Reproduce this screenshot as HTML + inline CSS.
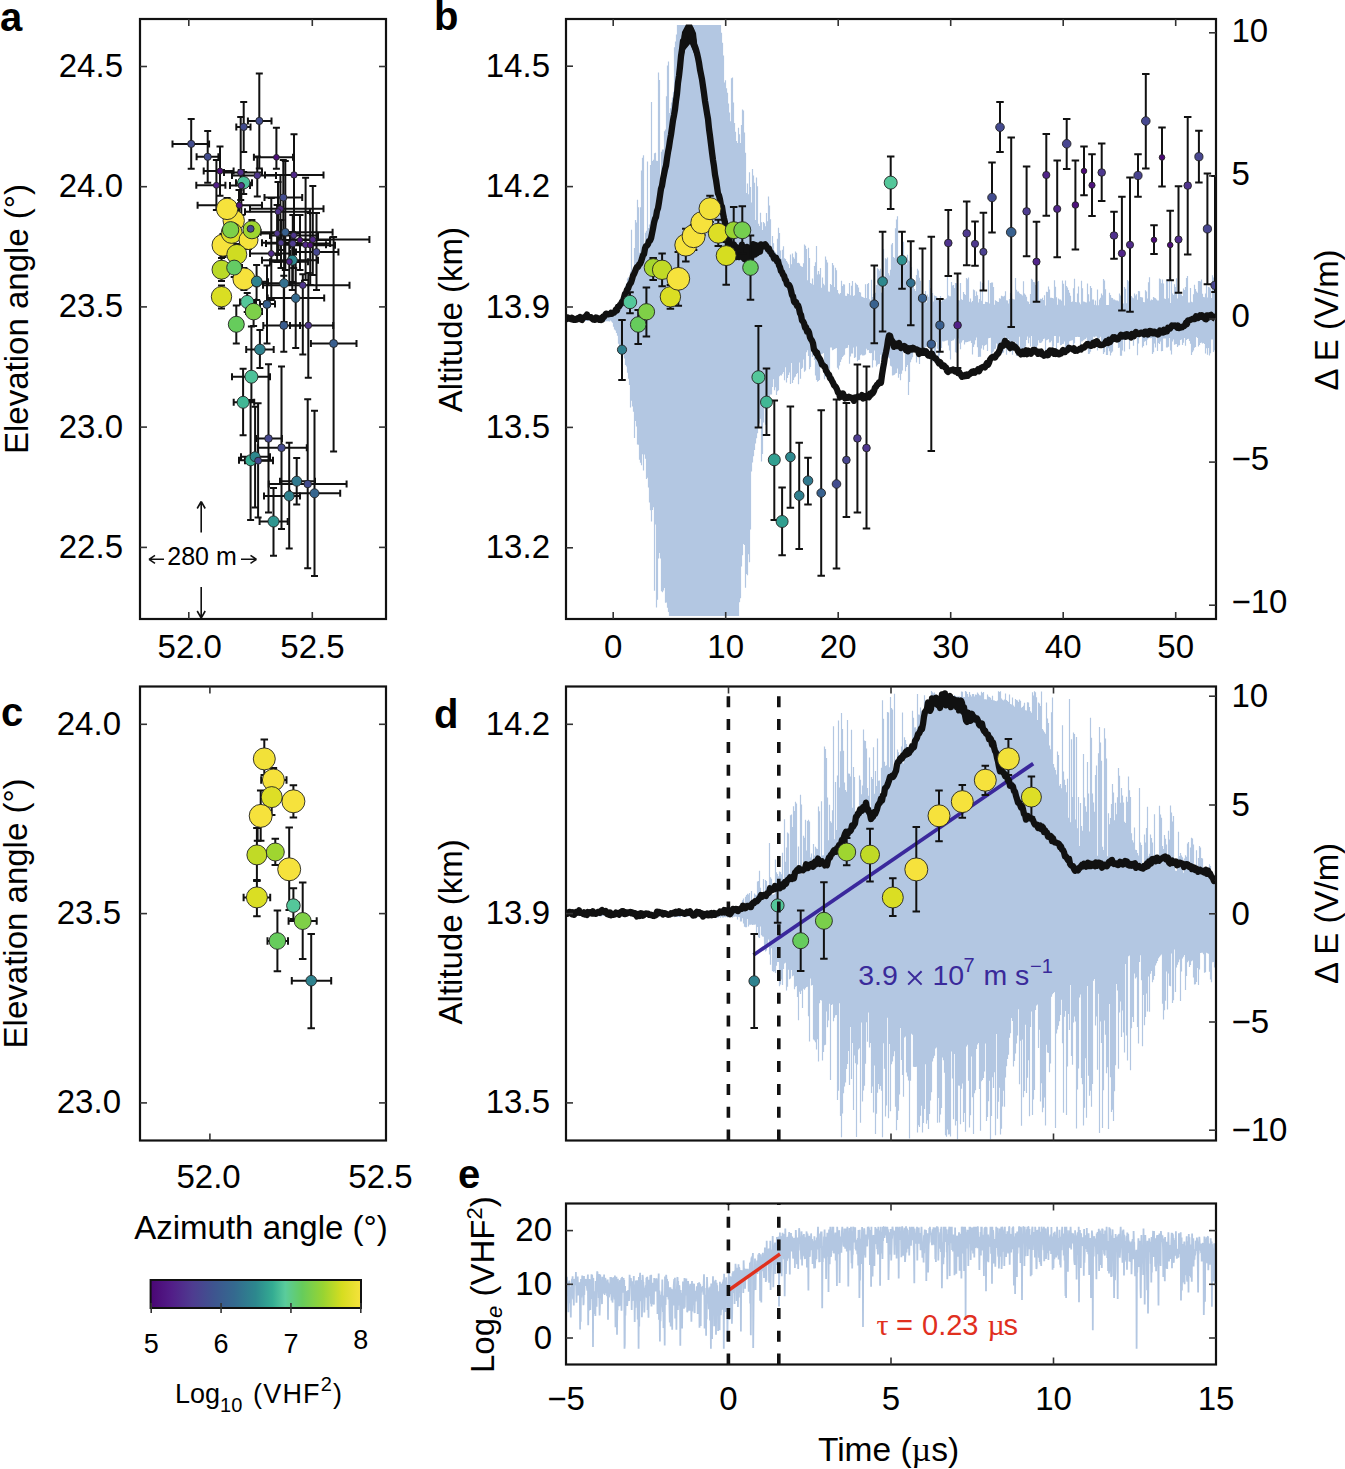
<!DOCTYPE html>
<html><head><meta charset="utf-8"><style>
html,body{margin:0;padding:0;background:#fff;}
svg{display:block;}
svg{font-family:"Liberation Sans", sans-serif;}
</style></head><body>
<svg width="1345" height="1469" viewBox="0 0 1345 1469">
<rect width="1345" height="1469" fill="#fff"/>
<defs><clipPath id="cb"><rect x="567" y="20" width="648" height="598"/></clipPath><clipPath id="cd"><rect x="567" y="687.5" width="648" height="452"/></clipPath><clipPath id="ce"><rect x="567" y="1204.5" width="648" height="159"/></clipPath><clipPath id="ca"><rect x="141" y="20" width="244" height="598"/></clipPath><clipPath id="cc"><rect x="141" y="687.5" width="244" height="452"/></clipPath></defs>
<path d="M566.5 317.7V320.5M567.5 317.7V320.8M568.5 317.7V320.7M569.5 318.0V321.0M570.5 317.4V320.8M571.5 318.0V320.7M572.5 318.0V320.9M573.5 317.4V320.7M574.5 317.8V321.2M575.5 317.3V321.0M576.5 317.4V320.4M577.5 317.7V321.0M578.5 317.7V320.5M579.5 317.6V320.4M580.5 317.8V320.4M581.5 317.1V320.3M582.5 317.2V320.1M583.5 317.6V320.1M584.5 317.6V320.1M585.5 317.6V321.1M586.5 317.6V321.0M587.5 317.2V321.0M588.5 317.3V320.4M589.5 317.4V320.3M590.5 317.5V320.6M591.5 317.4V321.3M592.5 317.5V321.2M593.5 317.6V321.5M594.5 317.6V320.8M595.5 317.9V320.9M596.5 317.9V320.8M597.5 317.7V320.8M598.5 317.7V321.4M599.5 317.7V320.2M600.5 317.7V320.0M601.5 317.8V320.1M602.5 316.5V321.1M603.5 317.1V320.9M604.5 317.1V321.8M605.5 317.2V321.3M606.5 317.2V321.2M607.5 316.3V321.2M608.5 316.3V321.2M609.5 316.4V321.5M610.5 317.1V320.6M611.5 315.7V321.6M612.5 312.8V322.7M613.5 313.2V326.8M614.5 311.9V329.6M615.5 312.9V330.6M616.5 305.5V333.1M617.5 304.3V335.7M618.5 305.2V343.7M619.5 304.1V346.1M620.5 298.7V345.0M621.5 304.9V347.8M622.5 296.3V357.6M623.5 296.4V353.1M624.5 291.4V358.4M625.5 285.9V365.1M626.5 283.6V366.6M627.5 278.5V372.8M628.5 277.3V378.8M629.5 285.4V384.9M630.5 271.8V407.4M631.5 229.7V400.7M632.5 278.1V406.4M633.5 274.7V411.7M634.5 247.9V438.1M635.5 220.0V421.0M636.5 222.6V426.4M637.5 199.7V444.6M638.5 207.3V444.7M639.5 252.7V459.8M640.5 207.2V462.8M641.5 170.4V465.3M642.5 157.7V454.3M643.5 155.2V470.5M644.5 245.2V454.5M645.5 232.8V458.8M646.5 230.7V479.0M647.5 161.5V477.8M648.5 228.1V487.5M649.5 224.6V502.5M650.5 165.1V510.2M651.5 102.0V521.6M652.5 161.1V509.9M653.5 159.8V507.3M654.5 153.2V590.7M655.5 152.7V524.4M656.5 160.8V607.4M657.5 161.1V599.8M658.5 72.4V558.4M659.5 80.1V553.1M660.5 181.3V558.6M661.5 151.8V591.2M662.5 149.6V592.3M663.5 149.6V590.6M664.5 131.2V587.9M665.5 129.6V602.8M666.5 96.3V602.4M667.5 65.5V607.7M668.5 61.5V611.9M669.5 113.0V616.0M670.5 108.3V616.0M671.5 102.4V616.0M672.5 97.5V616.0M673.5 91.8V616.0M674.5 47.3V616.0M675.5 41.6V616.0M676.5 34.4V616.0M677.5 25.0V616.0M678.5 25.0V616.0M679.5 25.0V616.0M680.5 25.0V616.0M681.5 25.0V616.0M682.5 25.0V616.0M683.5 25.0V616.0M684.5 25.0V616.0M685.5 25.0V616.0M686.5 25.0V616.0M687.5 25.0V616.0M688.5 25.0V616.0M689.5 25.0V616.0M690.5 25.0V616.0M691.5 25.0V616.0M692.5 25.0V616.0M693.5 25.0V616.0M694.5 25.0V616.0M695.5 25.0V616.0M696.5 25.0V616.0M697.5 25.0V616.0M698.5 25.0V616.0M699.5 25.0V616.0M700.5 25.0V616.0M701.5 25.0V616.0M702.5 25.0V616.0M703.5 25.0V616.0M704.5 25.0V616.0M705.5 25.0V616.0M706.5 25.0V616.0M707.5 25.0V616.0M708.5 25.0V616.0M709.5 25.0V616.0M710.5 25.0V616.0M711.5 25.0V616.0M712.5 25.0V616.0M713.5 25.0V616.0M714.5 25.0V616.0M715.5 25.0V616.0M716.5 25.0V616.0M717.5 25.0V616.0M718.5 25.0V616.0M719.5 25.0V616.0M720.5 25.0V616.0M721.5 32.7V616.0M722.5 42.7V616.0M723.5 55.4V616.0M724.5 82.5V616.0M725.5 80.2V616.0M726.5 88.3V616.0M727.5 92.7V616.0M728.5 103.4V616.0M729.5 112.5V616.0M730.5 121.2V616.0M731.5 78.2V616.0M732.5 77.5V616.0M733.5 102.4V616.0M734.5 122.9V616.0M735.5 131.8V616.0M736.5 140.9V616.0M737.5 142.9V616.0M738.5 127.8V616.0M739.5 134.3V602.3M740.5 143.0V598.3M741.5 125.0V566.4M742.5 109.4V555.2M743.5 110.6V544.1M744.5 132.6V544.9M745.5 152.8V587.7M746.5 193.0V573.9M747.5 183.4V575.3M748.5 194.3V554.3M749.5 172.3V562.2M750.5 187.1V529.5M751.5 202.4V471.6M752.5 169.1V462.4M753.5 175.6V456.3M754.5 182.7V450.0M755.5 220.0V443.6M756.5 177.5V438.2M757.5 186.2V433.3M758.5 223.7V428.0M759.5 225.9V423.4M760.5 212.7V418.7M761.5 222.3V461.5M762.5 230.0V453.9M763.5 222.0V422.6M764.5 223.2V405.0M765.5 226.2V424.7M766.5 212.9V414.8M767.5 221.2V404.9M768.5 196.5V401.3M769.5 205.5V398.7M770.5 219.3V394.6M771.5 249.0V394.6M772.5 235.9V386.9M773.5 243.2V379.3M774.5 250.7V390.3M775.5 252.2V387.2M776.5 254.1V394.9M777.5 238.7V391.2M778.5 227.8V390.3M779.5 233.0V376.2M780.5 250.6V375.2M781.5 258.8V375.6M782.5 249.8V373.8M783.5 246.3V372.0M784.5 258.3V380.3M785.5 259.1V367.3M786.5 261.1V382.6M787.5 262.6V378.1M788.5 264.2V375.1M789.5 268.0V372.5M790.5 254.5V384.1M791.5 264.3V362.9M792.5 253.6V382.9M793.5 257.2V380.0M794.5 258.7V377.6M795.5 251.4V376.5M796.5 252.8V374.1M797.5 262.9V373.1M798.5 262.8V384.3M799.5 263.4V362.5M800.5 265.8V378.7M801.5 266.4V369.1M802.5 266.9V367.7M803.5 263.3V359.5M804.5 244.4V371.8M805.5 245.8V370.5M806.5 249.0V352.2M807.5 280.3V350.3M808.5 247.8V356.0M809.5 257.9V369.3M810.5 283.1V367.0M811.5 283.7V351.1M812.5 278.4V357.1M813.5 284.7V350.2M814.5 266.1V360.1M815.5 262.2V375.4M816.5 246.1V379.9M817.5 274.5V381.8M818.5 270.9V381.0M819.5 274.3V380.1M820.5 268.0V355.2M821.5 287.8V354.3M822.5 277.6V353.8M823.5 283.8V353.0M824.5 285.2V379.3M825.5 256.4V372.0M826.5 259.7V375.2M827.5 262.4V371.9M828.5 291.4V367.9M829.5 291.8V369.7M830.5 284.1V347.6M831.5 285.0V347.4M832.5 262.9V350.3M833.5 265.2V349.8M834.5 287.1V349.1M835.5 267.7V348.6M836.5 270.2V347.9M837.5 289.9V367.7M838.5 293.3V369.4M839.5 294.3V365.6M840.5 293.0V362.1M841.5 280.8V359.5M842.5 285.9V357.1M843.5 284.2V355.8M844.5 284.4V354.7M845.5 295.8V348.6M846.5 296.1V348.1M847.5 293.6V347.8M848.5 293.9V344.9M849.5 283.0V363.8M850.5 295.3V356.4M851.5 285.7V353.5M852.5 280.9V353.4M853.5 296.0V347.4M854.5 295.2V358.1M855.5 282.8V357.2M856.5 284.2V346.5M857.5 285.1V361.2M858.5 287.6V360.0M859.5 292.1V359.8M860.5 292.4V355.3M861.5 296.5V354.4M862.5 297.1V355.5M863.5 297.5V355.4M864.5 298.1V355.2M865.5 284.3V354.6M866.5 297.9V348.7M867.5 283.9V350.2M868.5 283.1V350.1M869.5 299.3V353.0M870.5 300.5V353.3M871.5 279.8V352.9M872.5 296.9V367.6M873.5 293.7V360.3M874.5 293.5V350.6M875.5 292.8V360.4M876.5 285.1V366.6M877.5 268.3V364.8M878.5 269.3V364.0M879.5 270.7V363.8M880.5 268.8V354.7M881.5 292.8V359.2M882.5 292.0V358.7M883.5 249.1V357.9M884.5 287.4V361.9M885.5 258.2V354.1M886.5 259.3V355.1M887.5 257.6V356.7M888.5 273.2V357.5M889.5 275.6V358.4M890.5 269.8V365.8M891.5 244.5V366.4M892.5 243.1V375.6M893.5 256.9V375.2M894.5 258.0V374.8M895.5 228.3V373.6M896.5 219.5V373.1M897.5 216.3V368.4M898.5 262.4V377.8M899.5 263.1V374.0M900.5 263.7V380.3M901.5 264.3V373.8M902.5 264.8V370.4M903.5 241.8V351.9M904.5 256.1V351.3M905.5 260.2V371.3M906.5 264.5V367.1M907.5 254.8V364.9M908.5 260.4V395.1M909.5 261.3V381.9M910.5 263.0V362.2M911.5 267.2V359.6M912.5 285.2V357.3M913.5 287.1V349.5M914.5 289.1V351.3M915.5 291.1V350.6M916.5 275.1V362.5M917.5 268.8V351.5M918.5 270.6V350.1M919.5 277.8V364.1M920.5 280.8V354.4M921.5 296.4V352.2M922.5 297.6V350.4M923.5 301.1V348.7M924.5 301.3V347.8M925.5 290.9V347.5M926.5 302.6V346.8M927.5 294.5V345.1M928.5 296.7V344.8M929.5 280.0V348.4M930.5 288.2V357.8M931.5 290.5V344.3M932.5 293.0V361.3M933.5 301.6V347.9M934.5 295.6V362.3M935.5 296.1V358.0M936.5 296.5V341.9M937.5 297.8V348.8M938.5 298.0V357.5M939.5 298.7V355.4M940.5 295.9V349.9M941.5 301.6V348.0M942.5 299.4V341.2M943.5 300.3V341.5M944.5 299.0V341.2M945.5 299.3V340.8M946.5 298.2V340.5M947.5 275.6V340.3M948.5 295.5V345.5M949.5 296.2V350.4M950.5 296.3V359.6M951.5 281.9V341.1M952.5 285.6V340.6M953.5 284.9V340.3M954.5 287.9V338.7M955.5 282.9V352.2M956.5 283.2V352.8M957.5 302.8V344.5M958.5 299.9V338.4M959.5 300.4V343.6M960.5 283.0V349.2M961.5 299.3V342.5M962.5 299.9V340.6M963.5 292.0V340.0M964.5 294.1V344.5M965.5 295.1V342.3M966.5 277.9V342.2M967.5 279.2V342.1M968.5 277.5V341.5M969.5 301.7V341.2M970.5 298.5V340.7M971.5 302.3V343.1M972.5 301.1V354.5M973.5 289.6V346.9M974.5 290.2V344.4M975.5 296.0V340.2M976.5 291.5V337.4M977.5 295.3V347.3M978.5 302.4V356.9M979.5 298.9V356.8M980.5 281.5V356.7M981.5 300.8V348.4M982.5 282.9V345.3M983.5 304.0V349.7M984.5 304.0V345.7M985.5 301.8V345.0M986.5 302.0V344.6M987.5 302.2V350.9M988.5 280.3V338.3M989.5 303.6V338.0M990.5 283.0V337.8M991.5 282.5V353.9M992.5 282.6V352.6M993.5 286.9V351.5M994.5 304.8V349.3M995.5 300.2V348.7M996.5 301.0V343.6M997.5 301.7V346.7M998.5 302.1V348.5M999.5 298.3V347.0M1000.5 298.8V351.5M1001.5 295.7V354.5M1002.5 296.2V352.9M1003.5 296.5V352.4M1004.5 295.7V341.8M1005.5 291.3V336.6M1006.5 300.3V354.8M1007.5 300.6V339.2M1008.5 303.4V339.3M1009.5 298.9V352.2M1010.5 293.1V351.9M1011.5 294.6V349.1M1012.5 298.8V354.7M1013.5 299.3V341.3M1014.5 299.6V346.4M1015.5 278.1V342.0M1016.5 289.8V355.9M1017.5 291.5V347.6M1018.5 291.5V346.1M1019.5 293.2V336.8M1020.5 294.1V349.6M1021.5 294.5V350.4M1022.5 295.6V350.0M1023.5 281.2V348.2M1024.5 293.6V347.7M1025.5 294.8V346.6M1026.5 296.7V340.1M1027.5 301.3V336.5M1028.5 301.8V343.3M1029.5 304.1V337.8M1030.5 293.9V346.6M1031.5 278.7V336.1M1032.5 279.7V348.9M1033.5 282.1V346.6M1034.5 282.3V352.1M1035.5 285.0V349.7M1036.5 285.3V348.3M1037.5 281.7V345.6M1038.5 281.1V340.2M1039.5 301.2V342.7M1040.5 298.7V343.1M1041.5 299.0V342.4M1042.5 297.7V341.3M1043.5 299.9V339.0M1044.5 295.2V338.6M1045.5 305.4V355.0M1046.5 291.8V340.2M1047.5 292.1V339.8M1048.5 286.6V339.1M1049.5 289.4V342.6M1050.5 297.7V342.2M1051.5 297.7V340.7M1052.5 298.0V347.2M1053.5 298.4V346.4M1054.5 280.3V336.1M1055.5 286.7V336.0M1056.5 297.3V355.6M1057.5 304.8V342.9M1058.5 298.4V342.8M1059.5 299.4V336.6M1060.5 299.6V345.2M1061.5 300.7V345.1M1062.5 280.6V344.0M1063.5 283.7V343.8M1064.5 305.4V341.6M1065.5 280.4V348.3M1066.5 285.9V347.7M1067.5 287.6V346.2M1068.5 289.9V344.5M1069.5 292.8V341.3M1070.5 295.7V340.7M1071.5 302.1V340.4M1072.5 301.5V340.3M1073.5 288.2V346.7M1074.5 278.7V343.2M1075.5 302.1V337.0M1076.5 302.3V337.0M1077.5 293.6V336.8M1078.5 286.5V337.0M1079.5 302.5V336.9M1080.5 304.3V345.9M1081.5 280.7V341.4M1082.5 288.2V341.2M1083.5 301.5V340.2M1084.5 301.7V339.6M1085.5 302.2V339.1M1086.5 302.5V337.8M1087.5 283.4V345.1M1088.5 294.2V353.9M1089.5 301.6V353.7M1090.5 285.9V351.8M1091.5 287.9V344.2M1092.5 299.5V344.2M1093.5 299.6V336.7M1094.5 304.8V337.3M1095.5 300.5V336.5M1096.5 305.3V336.5M1097.5 289.5V350.6M1098.5 305.2V338.2M1099.5 299.4V338.4M1100.5 297.8V336.7M1101.5 293.6V345.4M1102.5 295.3V344.9M1103.5 278.9V354.1M1104.5 280.4V352.2M1105.5 289.3V346.6M1106.5 304.9V355.0M1107.5 305.0V354.9M1108.5 305.1V348.3M1109.5 292.7V351.2M1110.5 295.1V355.4M1111.5 297.7V352.8M1112.5 298.0V351.5M1113.5 299.5V343.3M1114.5 299.6V342.0M1115.5 300.2V340.9M1116.5 300.5V340.4M1117.5 300.6V339.8M1118.5 301.2V348.0M1119.5 293.6V347.5M1120.5 295.4V355.7M1121.5 298.7V355.8M1122.5 303.5V350.6M1123.5 303.6V340.1M1124.5 286.9V351.5M1125.5 288.7V336.8M1126.5 303.3V336.8M1127.5 279.9V336.8M1128.5 281.3V338.6M1129.5 282.8V349.3M1130.5 295.8V337.5M1131.5 295.9V337.3M1132.5 297.6V337.2M1133.5 298.2V345.7M1134.5 293.5V337.0M1135.5 295.6V337.0M1136.5 294.2V336.9M1137.5 299.7V355.3M1138.5 291.1V343.6M1139.5 291.2V336.5M1140.5 296.9V336.5M1141.5 297.3V336.5M1142.5 297.6V347.6M1143.5 302.0V346.1M1144.5 302.3V341.8M1145.5 290.2V341.1M1146.5 291.5V345.2M1147.5 298.5V339.4M1148.5 282.3V338.3M1149.5 277.3V338.0M1150.5 300.6V338.2M1151.5 299.5V338.1M1152.5 299.9V354.1M1153.5 297.1V352.3M1154.5 297.7V343.6M1155.5 298.3V347.4M1156.5 299.4V337.3M1157.5 300.4V351.0M1158.5 300.5V342.9M1159.5 278.5V344.1M1160.5 279.3V341.4M1161.5 283.2V351.2M1162.5 279.5V351.0M1163.5 283.4V338.6M1164.5 298.6V338.6M1165.5 299.1V338.5M1166.5 279.6V347.5M1167.5 281.2V347.5M1168.5 298.3V346.8M1169.5 276.8V337.9M1170.5 303.1V350.4M1171.5 280.9V354.6M1172.5 293.4V341.6M1173.5 295.0V339.5M1174.5 284.3V344.8M1175.5 287.0V344.3M1176.5 278.2V344.1M1177.5 298.5V347.0M1178.5 284.2V345.5M1179.5 293.3V345.3M1180.5 293.7V339.9M1181.5 294.4V339.5M1182.5 296.1V345.1M1183.5 288.5V342.7M1184.5 290.0V338.0M1185.5 287.0V345.7M1186.5 278.1V339.9M1187.5 275.9V339.0M1188.5 302.5V338.8M1189.5 302.5V341.1M1190.5 288.1V343.7M1191.5 301.7V354.9M1192.5 302.3V352.2M1193.5 294.2V350.5M1194.5 284.8V347.8M1195.5 288.9V347.1M1196.5 291.5V336.9M1197.5 292.8V337.9M1198.5 280.9V346.4M1199.5 281.0V345.1M1200.5 281.5V342.9M1201.5 279.6V342.6M1202.5 293.7V343.4M1203.5 297.1V342.9M1204.5 297.3V344.1M1205.5 293.4V353.5M1206.5 283.0V348.3M1207.5 297.4V354.8M1208.5 286.9V347.9M1209.5 287.5V355.5M1210.5 288.4V353.3M1211.5 298.1V339.6M1212.5 275.3V339.6M1213.5 277.6V352.1M1214.5 289.2V350.3M1215.5 289.5V349.5" stroke="#b3c7e2" stroke-width="1.20" fill="none" clip-path="url(#cb)"/>
<path d="M566.5 912.7V915.7M567.5 912.6V915.2M568.5 912.7V915.1M569.5 912.9V915.1M570.5 912.3V915.7M571.5 912.4V915.1M572.5 912.7V915.2M573.5 912.7V915.6M574.5 912.8V915.5M575.5 912.8V915.3M576.5 912.1V915.9M577.5 912.3V915.8M578.5 912.8V916.0M579.5 912.7V915.5M580.5 912.7V915.4M581.5 911.9V915.6M582.5 912.3V915.6M583.5 912.4V915.5M584.5 912.4V915.5M585.5 912.5V915.5M586.5 912.7V915.9M587.5 911.9V916.2M588.5 912.4V915.7M589.5 912.7V915.3M590.5 912.7V915.7M591.5 912.8V915.6M592.5 912.8V915.6M593.5 911.9V915.7M594.5 911.9V916.0M595.5 912.0V916.1M596.5 912.4V915.9M597.5 912.6V915.5M598.5 912.8V916.3M599.5 912.8V916.2M600.5 912.7V916.4M601.5 912.7V916.2M602.5 912.7V916.1M603.5 912.7V915.6M604.5 912.7V915.6M605.5 912.2V915.3M606.5 911.9V916.2M607.5 912.0V916.2M608.5 912.1V916.1M609.5 912.2V915.6M610.5 912.6V916.0M611.5 912.7V915.9M612.5 911.8V915.9M613.5 912.3V915.9M614.5 912.5V915.9M615.5 912.5V915.9M616.5 912.4V915.3M617.5 912.4V915.8M618.5 912.6V915.8M619.5 912.6V916.3M620.5 912.6V916.0M621.5 911.7V915.9M622.5 912.1V916.4M623.5 912.0V916.5M624.5 912.1V916.5M625.5 912.2V916.6M626.5 912.6V916.5M627.5 912.6V915.5M628.5 912.6V916.0M629.5 912.6V915.7M630.5 912.6V915.7M631.5 912.4V915.7M632.5 912.4V915.7M633.5 912.5V916.0M634.5 912.1V915.9M635.5 912.4V916.0M636.5 912.4V916.4M637.5 912.5V916.3M638.5 912.5V916.3M639.5 912.5V916.7M640.5 912.5V916.6M641.5 912.5V916.5M642.5 912.4V916.7M643.5 911.7V916.6M644.5 911.7V916.6M645.5 911.9V916.4M646.5 912.2V916.0M647.5 912.2V915.9M648.5 912.5V915.9M649.5 912.4V915.8M650.5 912.4V916.5M651.5 912.4V916.3M652.5 911.9V916.3M653.5 911.9V916.2M654.5 912.1V915.8M655.5 912.1V915.8M656.5 911.6V915.9M657.5 911.6V916.9M658.5 912.2V917.0M659.5 912.4V916.5M660.5 911.8V915.8M661.5 912.0V915.9M662.5 912.0V916.7M663.5 912.2V916.6M664.5 912.2V916.2M665.5 912.3V916.5M666.5 912.3V916.4M667.5 912.0V916.4M668.5 912.1V916.6M669.5 911.7V916.0M670.5 912.1V916.0M671.5 912.1V916.0M672.5 911.6V916.8M673.5 912.1V915.6M674.5 911.9V917.3M675.5 912.0V917.0M676.5 912.3V917.0M677.5 912.0V916.7M678.5 911.7V916.9M679.5 912.2V917.0M680.5 912.2V917.2M681.5 912.2V915.9M682.5 912.2V916.2M683.5 912.2V916.9M684.5 912.2V916.8M685.5 912.2V916.6M686.5 912.0V916.6M687.5 912.3V916.7M688.5 911.9V916.4M689.5 911.8V916.3M690.5 911.7V916.6M691.5 911.8V916.6M692.5 912.1V916.8M693.5 912.2V916.7M694.5 912.2V916.6M695.5 912.2V917.3M696.5 912.2V916.0M697.5 911.5V916.0M698.5 912.2V916.0M699.5 912.2V917.2M700.5 911.7V917.1M701.5 911.7V917.2M702.5 911.7V917.2M703.5 912.1V916.0M704.5 911.5V916.8M705.5 911.6V917.0M706.5 911.4V916.9M707.5 911.5V917.2M708.5 911.6V917.1M709.5 912.0V917.4M710.5 911.6V916.7M711.5 911.9V916.6M712.5 911.9V916.6M713.5 912.0V916.5M714.5 911.9V916.3M715.5 911.8V916.9M716.5 912.0V917.5M717.5 911.8V917.4M718.5 912.0V917.4M719.5 911.1V916.4M720.5 911.9V917.8M721.5 911.9V916.4M722.5 911.9V917.4M723.5 911.2V917.5M724.5 911.7V916.9M725.5 911.5V917.2M726.5 911.6V916.2M727.5 911.7V917.4M728.5 911.7V917.3M729.5 911.7V916.8M730.5 911.4V916.7M731.5 910.4V916.5M732.5 911.5V917.7M733.5 911.4V916.7M734.5 908.1V916.7M735.5 907.9V916.6M736.5 908.0V916.7M737.5 908.0V919.5M738.5 910.2V917.1M739.5 908.9V917.3M740.5 903.2V921.5M741.5 908.4V921.6M742.5 900.2V918.2M743.5 898.5V923.5M744.5 907.4V926.8M745.5 896.7V927.3M746.5 894.9V927.3M747.5 893.7V919.1M748.5 894.5V926.5M749.5 893.1V924.8M750.5 901.4V924.8M751.5 890.9V924.6M752.5 902.6V925.0M753.5 902.4V924.7M754.5 893.6V924.7M755.5 894.7V924.4M756.5 895.2V932.8M757.5 881.4V927.0M758.5 881.0V937.2M759.5 870.8V938.1M760.5 887.8V926.5M761.5 896.1V935.3M762.5 895.9V936.6M763.5 879.0V936.7M764.5 895.8V947.2M765.5 880.0V951.4M766.5 881.0V950.6M767.5 891.5V945.0M768.5 891.7V939.4M769.5 843.1V954.4M770.5 877.2V964.8M771.5 878.8V948.3M772.5 894.8V971.1M773.5 894.4V971.8M774.5 893.9V971.2M775.5 859.5V972.9M776.5 872.3V965.8M777.5 874.0V962.1M778.5 876.2V962.1M779.5 871.6V986.3M780.5 871.9V984.4M781.5 874.3V979.5M782.5 852.7V984.9M783.5 886.9V968.9M784.5 819.3V963.4M785.5 861.7V962.7M786.5 847.5V990.6M787.5 832.6V986.7M788.5 833.4V969.7M789.5 873.4V979.2M790.5 815.3V978.4M791.5 814.4V970.0M792.5 826.9V976.3M793.5 806.2V975.5M794.5 810.9V989.2M795.5 801.7V986.8M796.5 803.5V986.0M797.5 870.7V996.9M798.5 846.5V1020.3M799.5 872.0V991.7M800.5 794.7V994.0M801.5 804.6V990.8M802.5 874.2V1008.1M803.5 835.7V988.7M804.5 837.8V989.7M805.5 819.7V988.3M806.5 850.6V987.1M807.5 820.9V986.7M808.5 819.8V1016.2M809.5 821.6V1041.4M810.5 857.4V978.6M811.5 853.5V985.6M812.5 863.7V984.9M813.5 844.1V1039.4M814.5 855.6V1040.4M815.5 846.8V1042.3M816.5 848.4V1049.6M817.5 849.1V1039.3M818.5 806.6V1061.5M819.5 811.2V1003.3M820.5 861.3V999.9M821.5 801.2V1000.6M822.5 855.6V1060.6M823.5 855.2V1052.1M824.5 746.4V1045.2M825.5 749.0V1044.8M826.5 758.0V1011.4M827.5 797.4V1027.2M828.5 840.3V1020.6M829.5 804.8V1003.8M830.5 821.3V1080.0M831.5 822.8V1005.0M832.5 810.2V1004.2M833.5 726.2V1021.3M834.5 839.2V1017.7M835.5 782.0V1015.2M836.5 830.1V1014.9M837.5 775.6V1100.0M838.5 720.5V1090.7M839.5 787.5V1003.3M840.5 751.3V1116.1M841.5 712.9V1137.2M842.5 728.9V1113.6M843.5 750.7V1093.2M844.5 782.4V1086.6M845.5 790.0V1082.6M846.5 791.7V1069.1M847.5 720.0V1063.9M848.5 773.5V1051.1M849.5 773.7V1085.1M850.5 776.5V1026.9M851.5 729.8V1078.9M852.5 807.7V1043.1M853.5 767.1V1110.1M854.5 777.0V1055.4M855.5 813.3V1063.3M856.5 813.3V1137.1M857.5 812.3V1064.5M858.5 812.1V1049.4M859.5 775.6V1048.2M860.5 779.7V1122.8M861.5 794.3V1022.5M862.5 785.4V1101.5M863.5 729.4V1090.5M864.5 740.4V1085.8M865.5 741.0V1063.7M866.5 748.5V1022.2M867.5 788.1V1041.8M868.5 795.7V1012.6M869.5 757.5V1047.4M870.5 808.9V1042.9M871.5 777.0V1093.0M872.5 779.1V1086.5M873.5 747.2V1112.4M874.5 793.7V1065.6M875.5 771.0V1133.9M876.5 785.9V1113.8M877.5 738.4V1092.8M878.5 780.7V1084.0M879.5 780.6V1089.2M880.5 795.3V1086.1M881.5 767.8V1090.7M882.5 700.3V1137.2M883.5 718.7V1043.3M884.5 761.8V1068.7M885.5 766.0V1116.6M886.5 765.2V1105.5M887.5 711.9V1017.7M888.5 712.4V1118.3M889.5 767.2V1044.0M890.5 696.9V1111.3M891.5 707.9V1064.3M892.5 709.6V1061.6M893.5 768.4V1056.3M894.5 693.7V1051.2M895.5 767.0V1106.7M896.5 768.3V1130.3M897.5 749.6V1120.1M898.5 752.2V1110.8M899.5 761.5V1094.6M900.5 762.4V1028.1M901.5 746.5V1060.1M902.5 712.6V1075.1M903.5 763.5V1096.8M904.5 737.3V1037.6M905.5 740.1V1036.5M906.5 743.9V1072.5M907.5 753.8V1076.5M908.5 757.6V1080.4M909.5 751.8V1138.4M910.5 750.5V1080.8M911.5 749.5V1033.8M912.5 710.7V1034.8M913.5 717.7V1066.7M914.5 727.6V1066.9M915.5 727.3V1067.0M916.5 729.3V1066.8M917.5 694.1V1132.4M918.5 714.6V1125.2M919.5 714.7V1126.9M920.5 707.5V1115.7M921.5 710.8V1105.8M922.5 733.2V1132.5M923.5 727.3V1123.1M924.5 695.2V1109.1M925.5 726.3V1064.3M926.5 713.0V1123.7M927.5 712.7V1120.2M928.5 711.6V1128.9M929.5 710.1V1114.0M930.5 711.8V1100.6M931.5 691.1V1092.2M932.5 692.2V1061.6M933.5 693.5V1058.2M934.5 692.6V1055.7M935.5 696.0V1048.5M936.5 704.4V1047.5M937.5 703.2V1122.8M938.5 702.1V1097.9M939.5 700.9V1122.4M940.5 700.0V1114.5M941.5 699.9V1107.9M942.5 697.3V1057.4M943.5 694.3V1060.2M944.5 697.7V1072.8M945.5 699.1V1135.3M946.5 697.1V1136.7M947.5 698.4V1129.4M948.5 698.4V1134.5M949.5 698.3V1134.3M950.5 698.4V1136.6M951.5 698.3V1051.5M952.5 698.3V1078.4M953.5 698.1V1119.2M954.5 694.9V1054.0M955.5 696.2V1125.5M956.5 696.4V1121.1M957.5 696.4V1139.6M958.5 696.5V1085.5M959.5 696.6V1085.8M960.5 697.5V1124.3M961.5 691.5V1088.7M962.5 691.8V1083.4M963.5 697.1V1122.1M964.5 697.1V1113.1M965.5 691.1V1131.8M966.5 691.8V1046.6M967.5 694.0V1044.7M968.5 696.7V1080.8M969.5 692.1V1127.6M970.5 694.8V1115.3M971.5 696.6V1056.5M972.5 693.9V1097.2M973.5 694.1V1134.0M974.5 696.6V1093.2M975.5 694.5V1090.2M976.5 694.7V1049.0M977.5 692.6V1044.5M978.5 693.8V1043.0M979.5 695.3V1089.0M980.5 695.6V1130.7M981.5 691.7V1081.2M982.5 692.9V1080.0M983.5 692.1V1078.0M984.5 699.2V1071.4M985.5 699.3V1043.6M986.5 699.5V1121.1M987.5 694.5V1117.1M988.5 696.6V1101.3M989.5 697.1V1080.7M990.5 697.7V1139.5M991.5 699.8V1116.0M992.5 695.8V1077.2M993.5 700.2V1088.0M994.5 700.5V1072.3M995.5 700.9V1135.2M996.5 701.2V1034.0M997.5 700.4V1118.7M998.5 691.2V1101.7M999.5 691.9V1087.8M1000.5 691.2V1134.6M1001.5 698.6V1128.8M1002.5 699.7V1106.6M1003.5 700.5V1090.7M1004.5 699.6V1106.8M1005.5 693.6V1077.6M1006.5 699.9V1066.2M1007.5 701.0V1059.0M1008.5 702.0V1054.7M1009.5 694.4V1037.7M1010.5 703.9V1033.2M1011.5 704.5V1017.9M1012.5 697.6V1021.0M1013.5 705.5V1066.5M1014.5 706.7V1061.0M1015.5 698.9V1053.6M1016.5 700.1V1043.4M1017.5 700.5V1035.5M1018.5 701.9V1009.2M1019.5 699.5V1084.3M1020.5 700.8V1040.8M1021.5 707.8V1125.7M1022.5 706.9V1039.5M1023.5 705.7V1097.2M1024.5 702.8V1090.9M1025.5 710.3V1024.8M1026.5 710.6V1092.9M1027.5 702.2V1077.7M1028.5 702.6V1060.3M1029.5 707.0V1116.3M1030.5 711.3V1027.0M1031.5 712.8V1011.6M1032.5 692.2V1114.9M1033.5 695.5V1099.5M1034.5 691.2V1090.1M1035.5 692.2V1010.0M1036.5 697.2V1005.6M1037.5 720.0V1004.5M1038.5 702.4V1048.0M1039.5 703.6V1029.8M1040.5 705.9V1101.5M1041.5 691.4V1083.2M1042.5 728.9V1112.3M1043.5 730.5V1107.7M1044.5 732.2V1097.6M1045.5 733.8V1125.5M1046.5 702.4V1044.8M1047.5 718.5V1052.5M1048.5 722.9V1053.1M1049.5 745.5V1072.2M1050.5 749.3V1063.4M1051.5 712.2V996.8M1052.5 697.4V994.3M1053.5 763.9V993.0M1054.5 767.6V992.1M1055.5 770.0V1127.9M1056.5 774.6V1033.5M1057.5 751.6V1029.6M1058.5 754.9V1025.8M1059.5 785.8V1021.2M1060.5 784.0V1014.9M1061.5 788.3V999.7M1062.5 725.3V1043.2M1063.5 771.4V1112.7M1064.5 779.7V1016.7M1065.5 785.1V1011.1M1066.5 792.2V1115.0M1067.5 778.8V1066.6M1068.5 817.8V1013.9M1069.5 699.0V1030.1M1070.5 822.3V985.1M1071.5 739.2V1056.0M1072.5 797.0V1064.8M1073.5 732.6V1022.4M1074.5 733.9V1016.5M1075.5 819.5V1021.5M1076.5 737.0V1128.5M1077.5 828.3V1089.6M1078.5 797.1V1068.4M1079.5 846.0V997.6M1080.5 802.9V994.5M1081.5 825.9V1077.9M1082.5 830.7V1084.3M1083.5 753.9V1125.5M1084.5 797.4V1107.7M1085.5 806.2V1058.2M1086.5 811.7V1117.7M1087.5 762.0V985.9M1088.5 793.4V1075.7M1089.5 831.6V1095.8M1090.5 717.7V1090.8M1091.5 737.8V1106.8M1092.5 793.5V1084.1M1093.5 802.6V980.7M1094.5 811.8V979.0M1095.5 775.1V1025.5M1096.5 765.4V1016.6M1097.5 855.8V1069.7M1098.5 753.3V993.8M1099.5 727.0V1132.9M1100.5 742.5V1021.4M1101.5 760.7V1043.0M1102.5 846.7V1128.0M1103.5 849.9V1090.3M1104.5 728.2V1020.6M1105.5 738.5V1034.8M1106.5 758.4V1073.3M1107.5 856.3V1067.3M1108.5 813.3V1129.0M1109.5 824.3V1004.0M1110.5 818.1V1077.2M1111.5 804.0V1112.1M1112.5 784.1V1109.8M1113.5 792.5V1121.1M1114.5 820.2V1091.3M1115.5 802.7V1065.2M1116.5 814.3V983.9M1117.5 797.2V990.4M1118.5 768.0V1068.7M1119.5 775.8V1012.6M1120.5 802.7V1001.5M1121.5 788.1V1037.0M1122.5 795.6V1010.5M1123.5 802.6V1032.6M1124.5 821.8V1052.6M1125.5 822.9V963.9M1126.5 796.7V1035.4M1127.5 801.7V1060.6M1128.5 776.5V956.2M1129.5 790.3V955.5M1130.5 797.1V1070.3M1131.5 833.3V1028.2M1132.5 840.3V1016.9M1133.5 842.4V1022.0M1134.5 827.4V973.4M1135.5 849.8V978.6M1136.5 849.9V977.3M1137.5 852.9V1027.0M1138.5 855.5V1043.6M1139.5 788.1V961.9M1140.5 842.5V955.2M1141.5 845.1V980.3M1142.5 865.5V1046.2M1143.5 865.5V995.0M1144.5 834.6V1025.2M1145.5 842.4V1017.0M1146.5 827.9V993.4M1147.5 806.8V1011.4M1148.5 856.6V976.4M1149.5 853.7V1011.7M1150.5 834.4V973.8M1151.5 838.0V970.9M1152.5 842.6V982.3M1153.5 862.3V979.7M1154.5 814.2V976.1M1155.5 858.7V965.5M1156.5 860.3V963.2M1157.5 861.6V961.0M1158.5 862.0V958.2M1159.5 805.7V956.8M1160.5 814.5V955.6M1161.5 817.8V954.4M1162.5 846.1V1003.8M1163.5 849.1V1019.4M1164.5 835.1V1010.2M1165.5 838.8V1000.7M1166.5 844.6V971.6M1167.5 861.0V1009.5M1168.5 830.8V973.6M1169.5 839.5V985.7M1170.5 805.4V986.2M1171.5 812.5V953.6M1172.5 821.5V1002.9M1173.5 816.0V1000.2M1174.5 858.0V949.6M1175.5 870.7V991.9M1176.5 871.1V967.6M1177.5 862.2V964.8M1178.5 831.7V962.3M1179.5 855.9V959.4M1180.5 853.0V1001.0M1181.5 855.5V971.6M1182.5 857.2V958.4M1183.5 872.7V956.8M1184.5 858.4V955.1M1185.5 855.3V989.9M1186.5 856.8V976.0M1187.5 843.5V962.3M1188.5 842.1V960.7M1189.5 863.9V967.1M1190.5 847.4V964.9M1191.5 837.7V961.2M1192.5 838.6V960.5M1193.5 844.4V977.4M1194.5 870.8V984.6M1195.5 871.4V984.3M1196.5 850.3V982.1M1197.5 874.3V968.0M1198.5 857.9V985.0M1199.5 845.9V969.6M1200.5 847.5V953.0M1201.5 858.0V952.7M1202.5 858.5V952.8M1203.5 868.8V954.3M1204.5 869.5V972.7M1205.5 873.6V972.3M1206.5 874.5V952.7M1207.5 875.5V953.2M1208.5 876.4V953.8M1209.5 864.3V971.7M1210.5 865.9V979.6M1211.5 878.5V982.2M1212.5 879.4V962.2M1213.5 880.1V962.0M1214.5 880.9V967.4M1215.5 870.8V965.9" stroke="#b3c7e2" stroke-width="1.20" fill="none" clip-path="url(#cd)"/>
<polyline points="566.00 1294.7 566.30 1295.8 566.60 1284.4 566.90 1276.8 567.20 1281.7 567.50 1290.4 567.80 1286.8 568.10 1301.6 568.40 1312.2 568.70 1282.1 569.00 1303.2 569.30 1280.6 569.60 1293.5 569.90 1287.0 570.20 1301.6 570.50 1296.2 570.80 1317.6 571.10 1292.9 571.40 1289.0 571.70 1283.7 572.00 1278.8 572.30 1291.9 572.60 1276.2 572.90 1297.9 573.20 1299.2 573.50 1293.0 573.80 1305.4 574.10 1278.9 574.40 1284.8 574.70 1284.8 575.00 1279.1 575.30 1279.3 575.60 1284.8 575.90 1272.1 576.20 1288.1 576.50 1302.8 576.80 1285.4 577.10 1286.3 577.40 1287.4 577.70 1276.4 578.00 1295.5 578.30 1290.4 578.60 1286.7 578.90 1283.0 579.20 1282.4 579.50 1288.2 579.80 1285.2 580.10 1329.4 580.40 1294.0 580.70 1321.7 581.00 1279.0 581.30 1297.4 581.60 1279.7 581.90 1289.3 582.20 1275.5 582.50 1294.5 582.80 1294.9 583.10 1289.5 583.40 1305.2 583.70 1302.7 584.00 1275.9 584.30 1295.0 584.60 1282.8 584.90 1282.7 585.20 1283.2 585.50 1286.0 585.80 1279.7 586.10 1279.2 586.40 1285.9 586.70 1280.4 587.00 1287.9 587.30 1290.7 587.60 1279.4 587.90 1274.6 588.20 1325.2 588.50 1283.9 588.80 1310.7 589.10 1279.1 589.40 1285.9 589.70 1292.3 590.00 1288.1 590.30 1310.1 590.60 1298.8 590.90 1279.3 591.20 1299.0 591.50 1274.3 591.80 1284.1 592.10 1274.8 592.40 1278.9 592.70 1279.7 593.00 1347.0 593.30 1277.9 593.60 1312.8 593.90 1292.1 594.20 1291.3 594.50 1313.9 594.80 1308.3 595.10 1300.6 595.40 1316.1 595.70 1281.0 596.00 1294.1 596.30 1288.7 596.60 1306.7 596.90 1278.9 597.20 1271.4 597.50 1272.5 597.80 1280.9 598.10 1285.6 598.40 1282.9 598.70 1297.9 599.00 1274.1 599.30 1297.6 599.60 1315.5 599.90 1305.4 600.20 1274.5 600.50 1281.0 600.80 1287.9 601.10 1285.6 601.40 1298.3 601.70 1293.9 602.00 1304.1 602.30 1276.7 602.60 1283.4 602.90 1293.6 603.20 1288.1 603.50 1293.5 603.80 1285.4 604.10 1274.5 604.40 1289.3 604.70 1294.9 605.00 1282.8 605.30 1278.0 605.60 1279.6 605.90 1281.9 606.20 1293.0 606.50 1291.9 606.80 1289.2 607.10 1296.0 607.40 1295.8 607.70 1279.4 608.00 1319.8 608.30 1282.5 608.60 1291.8 608.90 1297.4 609.20 1295.4 609.50 1284.4 609.80 1284.1 610.10 1294.2 610.40 1277.1 610.70 1290.1 611.00 1277.0 611.30 1291.5 611.60 1300.5 611.90 1279.0 612.20 1277.8 612.50 1302.6 612.80 1292.0 613.10 1277.6 613.40 1297.1 613.70 1287.2 614.00 1285.9 614.30 1277.1 614.60 1299.4 614.90 1275.4 615.20 1293.1 615.50 1327.2 615.80 1290.3 616.10 1284.9 616.40 1276.7 616.70 1301.3 617.00 1334.7 617.30 1306.5 617.60 1310.4 617.90 1278.7 618.20 1295.4 618.50 1297.3 618.80 1281.5 619.10 1306.2 619.40 1297.1 619.70 1284.3 620.00 1280.1 620.30 1291.2 620.60 1305.7 620.90 1292.9 621.20 1278.3 621.50 1310.8 621.80 1291.7 622.10 1276.9 622.40 1280.2 622.70 1292.8 623.00 1289.0 623.30 1292.4 623.60 1277.9 623.90 1289.2 624.20 1280.0 624.50 1348.7 624.80 1344.4 625.10 1286.1 625.40 1315.6 625.70 1298.3 626.00 1291.9 626.30 1291.2 626.60 1298.4 626.90 1296.4 627.20 1306.0 627.50 1299.9 627.80 1296.1 628.10 1290.3 628.40 1290.6 628.70 1295.6 629.00 1300.9 629.30 1293.9 629.60 1274.8 629.90 1279.8 630.20 1284.5 630.50 1285.1 630.80 1278.0 631.10 1281.8 631.40 1289.4 631.70 1309.9 632.00 1285.7 632.30 1281.3 632.60 1301.0 632.90 1295.7 633.20 1287.3 633.50 1291.8 633.80 1276.1 634.10 1299.2 634.40 1290.0 634.70 1321.9 635.00 1296.3 635.30 1284.4 635.60 1307.7 635.90 1280.4 636.20 1292.9 636.50 1298.2 636.80 1292.4 637.10 1280.2 637.40 1292.3 637.70 1319.6 638.00 1298.6 638.30 1291.3 638.60 1348.7 638.90 1277.0 639.20 1326.4 639.50 1298.0 639.80 1278.0 640.10 1272.7 640.40 1301.2 640.70 1287.1 641.00 1279.9 641.30 1297.3 641.60 1281.4 641.90 1317.3 642.20 1306.7 642.50 1275.0 642.80 1276.5 643.10 1283.7 643.40 1282.1 643.70 1297.8 644.00 1292.6 644.30 1312.4 644.60 1304.7 644.90 1287.9 645.20 1296.8 645.50 1287.8 645.80 1285.4 646.10 1292.2 646.40 1277.7 646.70 1297.8 647.00 1276.9 647.30 1277.4 647.60 1310.0 647.90 1282.1 648.20 1299.7 648.50 1317.7 648.80 1279.8 649.10 1283.0 649.40 1296.2 649.70 1281.9 650.00 1287.4 650.30 1275.2 650.60 1279.7 650.90 1303.8 651.20 1274.7 651.50 1306.5 651.80 1287.1 652.10 1298.1 652.40 1291.6 652.70 1302.4 653.00 1282.8 653.30 1304.1 653.60 1303.3 653.90 1304.6 654.20 1278.1 654.50 1287.0 654.80 1289.9 655.10 1288.1 655.40 1289.5 655.70 1291.3 656.00 1279.6 656.30 1278.9 656.60 1278.5 656.90 1286.7 657.20 1284.8 657.50 1313.9 657.80 1303.2 658.10 1291.0 658.40 1285.1 658.70 1273.6 659.00 1319.8 659.30 1290.6 659.60 1299.1 659.90 1341.4 660.20 1294.8 660.50 1321.3 660.80 1310.0 661.10 1301.5 661.40 1306.5 661.70 1291.4 662.00 1299.3 662.30 1279.6 662.60 1294.6 662.90 1312.0 663.20 1295.4 663.50 1328.1 663.80 1324.1 664.10 1319.9 664.40 1299.8 664.70 1345.5 665.00 1276.6 665.30 1290.7 665.60 1305.0 665.90 1282.6 666.20 1274.9 666.50 1281.1 666.80 1280.9 667.10 1279.1 667.40 1296.9 667.70 1293.2 668.00 1281.3 668.30 1296.3 668.60 1299.3 668.90 1287.3 669.20 1291.9 669.50 1310.1 669.80 1322.5 670.10 1300.1 670.40 1287.2 670.70 1326.6 671.00 1293.2 671.30 1288.8 671.60 1295.7 671.90 1290.6 672.20 1329.8 672.50 1295.7 672.80 1289.2 673.10 1294.5 673.40 1305.5 673.70 1286.4 674.00 1281.7 674.30 1279.1 674.60 1289.0 674.90 1277.7 675.20 1318.4 675.50 1289.0 675.80 1294.2 676.10 1296.6 676.40 1329.8 676.70 1292.1 677.00 1285.4 677.30 1277.8 677.60 1277.3 677.90 1310.0 678.20 1281.0 678.50 1305.5 678.80 1294.0 679.10 1285.7 679.40 1285.5 679.70 1294.7 680.00 1292.5 680.30 1345.7 680.60 1290.1 680.90 1294.7 681.20 1299.5 681.50 1305.1 681.80 1311.9 682.10 1328.4 682.40 1293.0 682.70 1306.3 683.00 1281.5 683.30 1287.6 683.60 1288.3 683.90 1308.8 684.20 1297.8 684.50 1278.1 684.80 1307.4 685.10 1288.5 685.40 1280.4 685.70 1291.7 686.00 1293.1 686.30 1278.4 686.60 1295.4 686.90 1283.6 687.20 1312.2 687.50 1311.2 687.80 1289.9 688.10 1281.0 688.40 1306.0 688.70 1310.8 689.00 1285.4 689.30 1308.6 689.60 1287.9 689.90 1310.8 690.20 1283.8 690.50 1296.3 690.80 1288.0 691.10 1302.0 691.40 1321.8 691.70 1292.7 692.00 1281.1 692.30 1311.5 692.60 1298.7 692.90 1305.0 693.20 1283.5 693.50 1299.0 693.80 1299.4 694.10 1283.7 694.40 1312.0 694.70 1312.9 695.00 1292.8 695.30 1290.9 695.60 1301.5 695.90 1294.5 696.20 1298.3 696.50 1297.6 696.80 1286.2 697.10 1296.7 697.40 1287.8 697.70 1313.9 698.00 1283.0 698.30 1287.8 698.60 1305.3 698.90 1287.7 699.20 1282.2 699.50 1327.8 699.80 1308.9 700.10 1283.8 700.40 1286.5 700.70 1325.9 701.00 1288.8 701.30 1292.4 701.60 1287.0 701.90 1290.5 702.20 1288.3 702.50 1287.1 702.80 1286.3 703.10 1288.5 703.40 1294.7 703.70 1283.1 704.00 1274.2 704.30 1287.9 704.60 1328.4 704.90 1295.7 705.20 1321.0 705.50 1294.8 705.80 1307.2 706.10 1335.8 706.40 1287.9 706.70 1319.2 707.00 1277.1 707.30 1285.8 707.60 1292.8 707.90 1303.4 708.20 1294.2 708.50 1293.2 708.80 1309.3 709.10 1298.3 709.40 1287.5 709.70 1300.6 710.00 1320.4 710.30 1286.5 710.60 1305.6 710.90 1348.7 711.20 1283.5 711.50 1309.1 711.80 1284.8 712.10 1339.1 712.40 1300.2 712.70 1293.0 713.00 1276.3 713.30 1304.4 713.60 1306.9 713.90 1291.4 714.20 1326.2 714.50 1281.3 714.80 1292.1 715.10 1289.6 715.40 1280.9 715.70 1280.0 716.00 1334.7 716.30 1293.3 716.60 1282.7 716.90 1297.6 717.20 1285.2 717.50 1301.4 717.80 1300.7 718.10 1331.1 718.40 1291.3 718.70 1303.1 719.00 1303.1 719.30 1293.4 719.60 1330.3 719.90 1281.7 720.20 1304.5 720.50 1284.3 720.80 1315.3 721.10 1307.9 721.40 1284.4 721.70 1284.0 722.00 1288.3 722.30 1309.8 722.60 1284.1 722.90 1282.0 723.20 1294.3 723.50 1279.5 723.80 1348.7 724.10 1273.7 724.40 1298.6 724.70 1305.8 725.00 1280.6 725.30 1312.1 725.60 1281.0 725.90 1288.1 726.20 1277.3 726.50 1293.8 726.80 1288.9 727.10 1284.5 727.40 1341.3 727.70 1313.6 728.00 1313.3 728.30 1320.1 728.60 1277.2 728.90 1272.6 729.20 1320.0 729.50 1278.5 729.80 1318.7 730.10 1285.6 730.40 1276.4 730.70 1280.2 731.00 1310.1 731.30 1284.3 731.60 1276.8 731.90 1323.8 732.20 1312.4 732.50 1273.2 732.80 1292.9 733.10 1271.2 733.40 1281.7 733.70 1274.4 734.00 1276.3 734.30 1278.9 734.60 1304.1 734.90 1270.5 735.20 1285.1 735.50 1263.8 735.80 1268.9 736.10 1277.9 736.40 1270.0 736.70 1300.9 737.00 1282.9 737.30 1286.3 737.60 1267.8 737.90 1306.9 738.20 1288.2 738.50 1264.3 738.80 1297.6 739.10 1267.2 739.40 1268.6 739.70 1292.8 740.00 1279.4 740.30 1277.3 740.60 1270.1 740.90 1331.6 741.20 1283.8 741.50 1270.5 741.80 1272.3 742.10 1276.7 742.40 1270.4 742.70 1273.7 743.00 1281.7 743.30 1292.9 743.60 1260.4 743.90 1268.6 744.20 1268.4 744.50 1274.3 744.80 1276.6 745.10 1288.7 745.40 1277.0 745.70 1270.0 746.00 1268.9 746.30 1271.8 746.60 1275.4 746.90 1277.7 747.20 1278.9 747.50 1275.5 747.80 1268.8 748.10 1272.4 748.40 1276.1 748.70 1291.8 749.00 1285.0 749.30 1279.9 749.60 1279.3 749.90 1263.0 750.20 1303.4 750.50 1261.7 750.80 1335.2 751.10 1265.0 751.40 1259.0 751.70 1257.3 752.00 1272.8 752.30 1255.9 752.60 1259.2 752.90 1253.1 753.20 1348.0 753.50 1314.4 753.80 1282.6 754.10 1290.6 754.40 1271.1 754.70 1274.2 755.00 1258.5 755.30 1278.2 755.60 1290.0 755.90 1264.5 756.20 1271.5 756.50 1272.7 756.80 1268.8 757.10 1260.6 757.40 1273.9 757.70 1260.9 758.00 1265.0 758.30 1254.6 758.60 1263.2 758.90 1271.9 759.20 1253.0 759.50 1263.2 759.80 1263.5 760.10 1300.8 760.40 1258.9 760.70 1254.4 761.00 1262.0 761.30 1302.4 761.60 1257.6 761.90 1258.0 762.20 1260.4 762.50 1262.8 762.80 1252.8 763.10 1268.4 763.40 1271.1 763.70 1265.7 764.00 1278.1 764.30 1262.3 764.60 1257.8 764.90 1247.5 765.20 1253.0 765.50 1251.6 765.80 1281.9 766.10 1265.6 766.40 1280.6 766.70 1240.7 767.00 1259.4 767.30 1251.9 767.60 1259.0 767.90 1265.3 768.20 1255.5 768.50 1248.7 768.80 1261.0 769.10 1282.8 769.40 1248.2 769.70 1275.8 770.00 1273.7 770.30 1240.8 770.60 1290.0 770.90 1272.1 771.20 1263.4 771.50 1250.3 771.80 1250.3 772.10 1261.3 772.40 1257.1 772.70 1235.9 773.00 1253.4 773.30 1287.3 773.60 1265.7 773.90 1254.9 774.20 1267.1 774.50 1248.0 774.80 1244.1 775.10 1242.6 775.40 1273.9 775.70 1253.6 776.00 1254.4 776.30 1265.1 776.60 1251.0 776.90 1237.1 777.20 1249.9 777.50 1251.4 777.80 1264.0 778.10 1243.8 778.40 1258.8 778.70 1236.5 779.00 1306.4 779.30 1263.6 779.60 1251.9 779.90 1232.6 780.20 1271.4 780.50 1236.1 780.80 1261.7 781.10 1252.5 781.40 1238.8 781.70 1276.3 782.00 1238.0 782.30 1238.0 782.60 1232.9 782.90 1242.8 783.20 1245.3 783.50 1250.9 783.80 1259.3 784.10 1233.9 784.40 1238.4 784.70 1296.2 785.00 1252.0 785.30 1228.5 785.60 1241.1 785.90 1274.1 786.20 1261.8 786.50 1258.5 786.80 1248.2 787.10 1260.7 787.40 1237.1 787.70 1239.6 788.00 1248.9 788.30 1258.5 788.60 1235.7 788.90 1236.3 789.20 1232.0 789.50 1239.2 789.80 1274.4 790.10 1244.5 790.40 1248.5 790.70 1237.9 791.00 1233.0 791.30 1245.6 791.60 1245.1 791.90 1251.5 792.20 1236.5 792.50 1240.4 792.80 1243.4 793.10 1258.6 793.40 1251.7 793.70 1239.2 794.00 1238.7 794.30 1238.7 794.60 1238.9 794.90 1268.1 795.20 1249.1 795.50 1249.5 795.80 1230.0 796.10 1239.0 796.40 1260.2 796.70 1241.2 797.00 1264.2 797.30 1241.5 797.60 1237.6 797.90 1250.9 798.20 1268.9 798.50 1240.3 798.80 1250.5 799.10 1228.2 799.40 1231.1 799.70 1242.8 800.00 1236.6 800.30 1243.5 800.60 1237.3 800.90 1252.2 801.20 1259.4 801.50 1231.4 801.80 1237.1 802.10 1265.6 802.40 1237.0 802.70 1256.3 803.00 1235.2 803.30 1248.7 803.60 1251.6 803.90 1234.0 804.20 1246.8 804.50 1254.3 804.80 1259.1 805.10 1237.2 805.40 1241.0 805.70 1258.8 806.00 1252.3 806.30 1238.4 806.60 1231.4 806.90 1267.5 807.20 1251.0 807.50 1233.6 807.80 1265.3 808.10 1255.4 808.40 1290.4 808.70 1237.1 809.00 1236.0 809.30 1237.2 809.60 1256.9 809.90 1255.3 810.20 1241.7 810.50 1247.1 810.80 1250.2 811.10 1233.4 811.40 1243.4 811.70 1241.4 812.00 1239.2 812.30 1240.8 812.60 1264.0 812.90 1257.7 813.20 1241.3 813.50 1246.3 813.80 1247.6 814.10 1268.6 814.40 1236.2 814.70 1250.7 815.00 1268.3 815.30 1256.7 815.60 1260.6 815.90 1240.3 816.20 1245.4 816.50 1258.9 816.80 1237.6 817.10 1246.0 817.40 1249.5 817.70 1235.5 818.00 1226.8 818.30 1244.2 818.60 1243.8 818.90 1244.5 819.20 1262.2 819.50 1245.7 819.80 1262.0 820.10 1233.4 820.40 1236.7 820.70 1244.4 821.00 1231.6 821.30 1247.9 821.60 1231.5 821.90 1242.8 822.20 1308.3 822.50 1254.7 822.80 1261.9 823.10 1246.2 823.40 1257.6 823.70 1252.0 824.00 1236.4 824.30 1244.8 824.60 1229.5 824.90 1248.0 825.20 1258.4 825.50 1242.8 825.80 1236.8 826.10 1279.1 826.40 1245.7 826.70 1247.8 827.00 1256.7 827.30 1232.8 827.60 1237.4 827.90 1249.7 828.20 1235.5 828.50 1292.0 828.80 1243.0 829.10 1229.6 829.40 1244.5 829.70 1264.3 830.00 1236.4 830.30 1226.8 830.60 1235.0 830.90 1256.8 831.20 1254.9 831.50 1232.1 831.80 1237.4 832.10 1238.3 832.40 1226.8 832.70 1241.0 833.00 1250.8 833.30 1226.8 833.60 1253.0 833.90 1252.7 834.20 1243.5 834.50 1245.4 834.80 1242.3 835.10 1236.2 835.40 1232.6 835.70 1260.4 836.00 1247.7 836.30 1260.1 836.60 1254.4 836.90 1286.1 837.20 1226.8 837.50 1236.4 837.80 1250.7 838.10 1243.3 838.40 1254.3 838.70 1238.1 839.00 1233.1 839.30 1230.2 839.60 1283.1 839.90 1257.1 840.20 1236.8 840.50 1250.2 840.80 1252.7 841.10 1236.5 841.40 1252.8 841.70 1235.5 842.00 1230.1 842.30 1226.8 842.60 1238.8 842.90 1233.1 843.20 1235.3 843.50 1244.8 843.80 1246.7 844.10 1242.2 844.40 1228.4 844.70 1245.1 845.00 1245.2 845.30 1248.7 845.60 1228.4 845.90 1238.1 846.20 1229.6 846.50 1239.2 846.80 1251.6 847.10 1235.6 847.40 1226.8 847.70 1236.3 848.00 1238.5 848.30 1286.4 848.60 1239.6 848.90 1244.0 849.20 1236.8 849.50 1228.0 849.80 1238.7 850.10 1235.3 850.40 1250.5 850.70 1236.1 851.00 1226.8 851.30 1249.5 851.60 1263.3 851.90 1231.2 852.20 1268.4 852.50 1250.4 852.80 1254.7 853.10 1227.5 853.40 1226.8 853.70 1234.3 854.00 1231.1 854.30 1242.4 854.60 1237.1 854.90 1239.9 855.20 1227.2 855.50 1249.0 855.80 1245.1 856.10 1250.5 856.40 1239.9 856.70 1248.4 857.00 1246.3 857.30 1254.1 857.60 1243.6 857.90 1238.1 858.20 1265.5 858.50 1230.1 858.80 1264.0 859.10 1240.1 859.40 1297.9 859.70 1229.7 860.00 1280.6 860.30 1242.5 860.60 1239.8 860.90 1239.3 861.20 1239.6 861.50 1264.0 861.80 1238.2 862.10 1227.1 862.40 1235.4 862.70 1254.9 863.00 1327.1 863.30 1231.8 863.60 1248.9 863.90 1233.9 864.20 1228.3 864.50 1231.3 864.80 1255.1 865.10 1251.3 865.40 1257.6 865.70 1234.4 866.00 1236.8 866.30 1238.3 866.60 1239.0 866.90 1238.7 867.20 1246.4 867.50 1231.8 867.80 1226.8 868.10 1235.6 868.40 1226.8 868.70 1227.7 869.00 1228.6 869.30 1239.4 869.60 1229.9 869.90 1265.0 870.20 1244.7 870.50 1238.6 870.80 1237.6 871.10 1286.7 871.40 1226.8 871.70 1243.4 872.00 1242.8 872.30 1263.0 872.60 1276.4 872.90 1235.7 873.20 1235.8 873.50 1236.4 873.80 1265.4 874.10 1248.4 874.40 1266.0 874.70 1235.0 875.00 1244.2 875.30 1227.0 875.60 1236.1 875.90 1231.0 876.20 1228.6 876.50 1243.8 876.80 1231.5 877.10 1248.9 877.40 1229.2 877.70 1250.2 878.00 1254.5 878.30 1226.8 878.60 1239.9 878.90 1234.8 879.20 1235.1 879.50 1235.9 879.80 1230.4 880.10 1285.8 880.40 1238.9 880.70 1226.8 881.00 1238.5 881.30 1253.3 881.60 1250.9 881.90 1243.7 882.20 1232.1 882.50 1258.9 882.80 1227.1 883.10 1241.1 883.40 1226.8 883.70 1226.8 884.00 1230.5 884.30 1234.9 884.60 1237.9 884.90 1226.8 885.20 1228.5 885.50 1227.4 885.80 1226.8 886.10 1231.3 886.40 1235.5 886.70 1227.2 887.00 1243.1 887.30 1226.8 887.60 1231.6 887.90 1229.2 888.20 1233.0 888.50 1280.1 888.80 1264.2 889.10 1237.1 889.40 1232.3 889.70 1239.7 890.00 1254.3 890.30 1251.8 890.60 1229.1 890.90 1230.8 891.20 1260.4 891.50 1251.6 891.80 1238.9 892.10 1237.9 892.40 1226.8 892.70 1227.9 893.00 1234.9 893.30 1230.2 893.60 1233.9 893.90 1232.4 894.20 1238.8 894.50 1254.8 894.80 1230.7 895.10 1243.7 895.40 1243.6 895.70 1232.2 896.00 1226.8 896.30 1228.6 896.60 1258.6 896.90 1243.4 897.20 1226.8 897.50 1245.4 897.80 1226.8 898.10 1244.3 898.40 1230.6 898.70 1278.4 899.00 1230.1 899.30 1230.3 899.60 1228.7 899.90 1226.8 900.20 1238.2 900.50 1239.9 900.80 1234.3 901.10 1239.9 901.40 1257.2 901.70 1234.7 902.00 1226.8 902.30 1226.8 902.60 1228.8 902.90 1231.9 903.20 1255.8 903.50 1236.2 903.80 1243.4 904.10 1241.7 904.40 1238.6 904.70 1227.8 905.00 1262.0 905.30 1257.5 905.60 1252.5 905.90 1226.8 906.20 1226.8 906.50 1252.5 906.80 1240.6 907.10 1228.4 907.40 1241.2 907.70 1230.0 908.00 1247.7 908.30 1248.4 908.60 1243.8 908.90 1235.2 909.20 1255.6 909.50 1242.6 909.80 1226.8 910.10 1232.7 910.40 1232.4 910.70 1239.7 911.00 1245.8 911.30 1233.9 911.60 1229.4 911.90 1226.8 912.20 1238.5 912.50 1238.1 912.80 1239.9 913.10 1239.5 913.40 1226.8 913.70 1246.7 914.00 1254.9 914.30 1283.2 914.60 1228.6 914.90 1232.3 915.20 1238.7 915.50 1240.0 915.80 1243.7 916.10 1233.3 916.40 1233.5 916.70 1239.0 917.00 1226.8 917.30 1260.5 917.60 1232.7 917.90 1243.3 918.20 1237.5 918.50 1233.3 918.80 1227.4 919.10 1243.7 919.40 1238.5 919.70 1233.0 920.00 1243.2 920.30 1242.8 920.60 1250.1 920.90 1243.8 921.20 1235.1 921.50 1226.8 921.80 1237.3 922.10 1244.6 922.40 1257.8 922.70 1251.7 923.00 1242.6 923.30 1241.7 923.60 1262.4 923.90 1235.2 924.20 1253.3 924.50 1235.4 924.80 1229.5 925.10 1241.7 925.40 1241.5 925.70 1242.2 926.00 1229.9 926.30 1281.0 926.60 1244.5 926.90 1254.6 927.20 1250.8 927.50 1233.3 927.80 1240.8 928.10 1272.5 928.40 1256.5 928.70 1245.2 929.00 1242.1 929.30 1228.0 929.60 1233.0 929.90 1226.8 930.20 1230.9 930.50 1232.9 930.80 1233.4 931.10 1235.7 931.40 1242.4 931.70 1238.9 932.00 1245.2 932.30 1239.6 932.60 1229.4 932.90 1244.5 933.20 1238.9 933.50 1227.2 933.80 1238.3 934.10 1235.6 934.40 1245.2 934.70 1243.8 935.00 1227.4 935.30 1259.3 935.60 1236.1 935.90 1262.0 936.20 1229.3 936.50 1231.7 936.80 1226.8 937.10 1226.8 937.40 1230.8 937.70 1226.8 938.00 1229.6 938.30 1260.5 938.60 1246.5 938.90 1248.7 939.20 1237.1 939.50 1248.4 939.80 1236.5 940.10 1232.2 940.40 1239.7 940.70 1228.7 941.00 1252.0 941.30 1226.8 941.60 1234.5 941.90 1288.2 942.20 1260.9 942.50 1244.0 942.80 1242.2 943.10 1258.8 943.40 1264.2 943.70 1226.8 944.00 1257.6 944.30 1231.4 944.60 1235.6 944.90 1242.0 945.20 1232.8 945.50 1226.8 945.80 1238.7 946.10 1234.6 946.40 1229.3 946.70 1252.3 947.00 1244.6 947.30 1279.3 947.60 1234.8 947.90 1234.7 948.20 1245.2 948.50 1229.6 948.80 1237.9 949.10 1228.3 949.40 1226.8 949.70 1276.0 950.00 1226.8 950.30 1235.2 950.60 1243.1 950.90 1237.3 951.20 1226.8 951.50 1232.6 951.80 1226.8 952.10 1250.0 952.40 1245.9 952.70 1236.7 953.00 1251.5 953.30 1240.8 953.60 1234.5 953.90 1236.1 954.20 1240.6 954.50 1275.2 954.80 1267.3 955.10 1227.5 955.40 1247.5 955.70 1245.0 956.00 1236.6 956.30 1273.8 956.60 1243.1 956.90 1235.9 957.20 1236.6 957.50 1238.5 957.80 1236.3 958.10 1256.7 958.40 1252.0 958.70 1240.8 959.00 1232.4 959.30 1240.8 959.60 1270.7 959.90 1239.7 960.20 1233.8 960.50 1253.7 960.80 1238.0 961.10 1251.6 961.40 1278.4 961.70 1226.8 962.00 1227.7 962.30 1238.4 962.60 1234.7 962.90 1228.5 963.20 1253.4 963.50 1226.8 963.80 1236.7 964.10 1271.1 964.40 1226.8 964.70 1233.9 965.00 1226.8 965.30 1229.7 965.60 1316.9 965.90 1232.2 966.20 1236.8 966.50 1239.7 966.80 1248.5 967.10 1236.7 967.40 1229.7 967.70 1238.1 968.00 1230.0 968.30 1266.1 968.60 1233.9 968.90 1230.4 969.20 1243.8 969.50 1226.8 969.80 1238.8 970.10 1226.8 970.40 1244.8 970.70 1260.0 971.00 1235.3 971.30 1241.2 971.60 1250.5 971.90 1228.6 972.20 1227.6 972.50 1243.1 972.80 1239.3 973.10 1253.6 973.40 1236.3 973.70 1234.8 974.00 1226.8 974.30 1257.5 974.60 1226.8 974.90 1247.5 975.20 1247.7 975.50 1226.8 975.80 1247.1 976.10 1241.1 976.40 1235.1 976.70 1226.8 977.00 1235.9 977.30 1248.2 977.60 1226.8 977.90 1226.9 978.20 1238.3 978.50 1240.8 978.80 1236.8 979.10 1248.0 979.40 1270.1 979.70 1237.9 980.00 1244.0 980.30 1241.1 980.60 1232.0 980.90 1255.6 981.20 1226.8 981.50 1245.2 981.80 1226.8 982.10 1250.5 982.40 1234.7 982.70 1242.8 983.00 1235.5 983.30 1245.3 983.60 1244.6 983.90 1275.9 984.20 1237.8 984.50 1228.3 984.80 1229.4 985.10 1227.1 985.40 1230.0 985.70 1226.8 986.00 1291.2 986.30 1234.7 986.60 1227.3 986.90 1244.9 987.20 1244.4 987.50 1261.3 987.80 1240.3 988.10 1234.6 988.40 1262.3 988.70 1246.2 989.00 1238.3 989.30 1246.7 989.60 1238.1 989.90 1238.6 990.20 1234.2 990.50 1226.8 990.80 1234.1 991.10 1253.7 991.40 1245.8 991.70 1236.6 992.00 1283.8 992.30 1226.8 992.60 1238.8 992.90 1230.2 993.20 1231.5 993.50 1237.7 993.80 1263.4 994.10 1260.2 994.40 1239.0 994.70 1239.8 995.00 1248.3 995.30 1266.7 995.60 1241.2 995.90 1246.8 996.20 1226.8 996.50 1232.3 996.80 1235.6 997.10 1248.0 997.40 1227.8 997.70 1235.1 998.00 1253.9 998.30 1256.7 998.60 1244.6 998.90 1268.4 999.20 1259.9 999.50 1228.4 999.80 1256.6 1000.10 1252.3 1000.40 1244.9 1000.70 1254.3 1001.00 1248.1 1001.30 1226.8 1001.60 1268.9 1001.90 1262.8 1002.20 1226.8 1002.50 1227.6 1002.80 1229.6 1003.10 1251.7 1003.40 1237.3 1003.70 1249.4 1004.00 1230.3 1004.30 1266.1 1004.60 1246.3 1004.90 1226.8 1005.20 1253.3 1005.50 1235.5 1005.80 1234.0 1006.10 1256.9 1006.40 1239.0 1006.70 1241.7 1007.00 1240.3 1007.30 1231.4 1007.60 1237.8 1007.90 1250.9 1008.20 1253.3 1008.50 1236.1 1008.80 1237.7 1009.10 1226.8 1009.40 1226.8 1009.70 1264.7 1010.00 1233.8 1010.30 1236.2 1010.60 1252.1 1010.90 1234.0 1011.20 1252.5 1011.50 1237.6 1011.80 1248.2 1012.10 1248.9 1012.40 1227.8 1012.70 1243.8 1013.00 1226.8 1013.30 1227.3 1013.60 1241.5 1013.90 1285.6 1014.20 1236.4 1014.50 1269.6 1014.80 1241.7 1015.10 1294.1 1015.40 1247.0 1015.70 1233.3 1016.00 1239.1 1016.30 1272.2 1016.60 1237.0 1016.90 1277.1 1017.20 1231.5 1017.50 1253.6 1017.80 1237.2 1018.10 1239.5 1018.40 1242.3 1018.70 1247.4 1019.00 1226.8 1019.30 1226.8 1019.60 1246.8 1019.90 1243.6 1020.20 1244.6 1020.50 1263.1 1020.80 1226.8 1021.10 1228.6 1021.40 1244.9 1021.70 1246.6 1022.00 1300.1 1022.30 1245.4 1022.60 1238.0 1022.90 1238.8 1023.20 1226.8 1023.50 1226.8 1023.80 1240.7 1024.10 1229.7 1024.40 1265.9 1024.70 1226.8 1025.00 1235.3 1025.30 1233.2 1025.60 1256.2 1025.90 1235.2 1026.20 1239.1 1026.50 1246.2 1026.80 1229.3 1027.10 1244.9 1027.40 1226.8 1027.70 1256.0 1028.00 1245.4 1028.30 1226.8 1028.60 1226.8 1028.90 1242.5 1029.20 1249.1 1029.50 1228.9 1029.80 1248.4 1030.10 1241.7 1030.40 1234.7 1030.70 1276.3 1031.00 1238.7 1031.30 1235.7 1031.60 1275.1 1031.90 1233.3 1032.20 1228.1 1032.50 1226.8 1032.80 1249.9 1033.10 1237.4 1033.40 1244.3 1033.70 1232.1 1034.00 1239.8 1034.30 1240.6 1034.60 1234.4 1034.90 1257.6 1035.20 1226.8 1035.50 1231.0 1035.80 1232.8 1036.10 1252.5 1036.40 1269.1 1036.70 1267.0 1037.00 1236.0 1037.30 1230.1 1037.60 1239.8 1037.90 1229.8 1038.20 1238.9 1038.50 1237.9 1038.80 1257.8 1039.10 1226.8 1039.40 1246.7 1039.70 1261.9 1040.00 1258.8 1040.30 1231.7 1040.60 1264.2 1040.90 1243.2 1041.20 1266.1 1041.50 1226.8 1041.80 1228.3 1042.10 1231.2 1042.40 1235.4 1042.70 1228.8 1043.00 1243.4 1043.30 1244.9 1043.60 1250.2 1043.90 1226.8 1044.20 1261.2 1044.50 1256.7 1044.80 1231.7 1045.10 1232.8 1045.40 1229.6 1045.70 1228.6 1046.00 1259.0 1046.30 1253.0 1046.60 1252.5 1046.90 1244.2 1047.20 1244.9 1047.50 1235.1 1047.80 1226.8 1048.10 1230.6 1048.40 1260.1 1048.70 1238.6 1049.00 1236.5 1049.30 1246.9 1049.60 1250.8 1049.90 1237.3 1050.20 1237.2 1050.50 1234.6 1050.80 1239.2 1051.10 1253.9 1051.40 1227.1 1051.70 1244.4 1052.00 1248.1 1052.30 1243.6 1052.60 1269.8 1052.90 1244.8 1053.20 1236.6 1053.50 1267.9 1053.80 1233.8 1054.10 1233.4 1054.40 1259.2 1054.70 1231.7 1055.00 1235.2 1055.30 1244.1 1055.60 1255.5 1055.90 1236.2 1056.20 1257.6 1056.50 1235.2 1056.80 1242.0 1057.10 1226.8 1057.40 1239.5 1057.70 1255.4 1058.00 1238.0 1058.30 1240.1 1058.60 1259.4 1058.90 1243.3 1059.20 1256.7 1059.50 1229.8 1059.80 1241.3 1060.10 1264.7 1060.40 1237.5 1060.70 1267.4 1061.00 1236.7 1061.30 1248.1 1061.60 1250.2 1061.90 1231.5 1062.20 1226.8 1062.50 1241.8 1062.80 1243.5 1063.10 1235.3 1063.40 1238.3 1063.70 1255.5 1064.00 1233.4 1064.30 1244.8 1064.60 1260.4 1064.90 1226.8 1065.20 1277.0 1065.50 1296.0 1065.80 1229.8 1066.10 1297.9 1066.40 1226.8 1066.70 1271.7 1067.00 1230.2 1067.30 1247.2 1067.60 1242.2 1067.90 1271.8 1068.20 1241.6 1068.50 1248.2 1068.80 1237.1 1069.10 1230.4 1069.40 1247.7 1069.70 1234.9 1070.00 1244.1 1070.30 1233.6 1070.60 1226.8 1070.90 1233.5 1071.20 1249.6 1071.50 1232.7 1071.80 1239.4 1072.10 1233.3 1072.40 1237.2 1072.70 1243.5 1073.00 1233.4 1073.30 1236.7 1073.60 1241.9 1073.90 1243.0 1074.20 1259.9 1074.50 1263.1 1074.80 1264.9 1075.10 1230.3 1075.40 1237.1 1075.70 1246.3 1076.00 1239.0 1076.30 1235.6 1076.60 1279.6 1076.90 1255.2 1077.20 1253.4 1077.50 1234.9 1077.80 1232.4 1078.10 1240.7 1078.40 1244.3 1078.70 1226.8 1079.00 1302.3 1079.30 1255.7 1079.60 1245.7 1079.90 1230.0 1080.20 1241.3 1080.50 1239.2 1080.80 1268.0 1081.10 1233.2 1081.40 1242.1 1081.70 1241.3 1082.00 1245.7 1082.30 1245.2 1082.60 1239.4 1082.90 1237.4 1083.20 1243.3 1083.50 1239.3 1083.80 1275.8 1084.10 1228.9 1084.40 1262.8 1084.70 1253.6 1085.00 1236.0 1085.30 1236.0 1085.60 1238.6 1085.90 1245.6 1086.20 1245.5 1086.50 1249.0 1086.80 1227.9 1087.10 1251.9 1087.40 1250.0 1087.70 1238.1 1088.00 1235.4 1088.30 1254.3 1088.60 1233.3 1088.90 1246.2 1089.20 1275.1 1089.50 1242.3 1089.80 1238.0 1090.10 1253.1 1090.40 1238.0 1090.70 1248.8 1091.00 1297.9 1091.30 1286.8 1091.60 1249.7 1091.90 1230.6 1092.20 1233.9 1092.50 1241.3 1092.80 1330.3 1093.10 1245.6 1093.40 1241.0 1093.70 1256.4 1094.00 1237.7 1094.30 1236.2 1094.60 1245.9 1094.90 1246.5 1095.20 1238.5 1095.50 1240.5 1095.80 1240.4 1096.10 1257.9 1096.40 1279.3 1096.70 1233.4 1097.00 1243.5 1097.30 1254.3 1097.60 1231.9 1097.90 1235.2 1098.20 1235.5 1098.50 1244.2 1098.80 1228.8 1099.10 1270.9 1099.40 1251.3 1099.70 1238.5 1100.00 1230.4 1100.30 1242.5 1100.60 1265.0 1100.90 1236.6 1101.20 1233.6 1101.50 1234.5 1101.80 1268.1 1102.10 1229.3 1102.40 1229.1 1102.70 1229.8 1103.00 1249.8 1103.30 1248.8 1103.60 1234.0 1103.90 1249.7 1104.20 1254.3 1104.50 1247.0 1104.80 1255.6 1105.10 1230.6 1105.40 1245.0 1105.70 1242.1 1106.00 1250.0 1106.30 1248.8 1106.60 1226.8 1106.90 1235.9 1107.20 1257.9 1107.50 1248.2 1107.80 1244.6 1108.10 1270.9 1108.40 1263.2 1108.70 1240.9 1109.00 1273.6 1109.30 1227.3 1109.60 1271.6 1109.90 1256.2 1110.20 1228.5 1110.50 1240.4 1110.80 1249.4 1111.10 1276.9 1111.40 1240.9 1111.70 1240.8 1112.00 1235.5 1112.30 1239.6 1112.60 1229.4 1112.90 1247.9 1113.20 1276.6 1113.50 1245.6 1113.80 1260.4 1114.10 1297.9 1114.40 1237.9 1114.70 1251.3 1115.00 1280.2 1115.30 1269.2 1115.60 1234.0 1115.90 1252.0 1116.20 1239.7 1116.50 1236.6 1116.80 1237.4 1117.10 1239.0 1117.40 1259.7 1117.70 1299.0 1118.00 1239.4 1118.30 1234.8 1118.60 1253.0 1118.90 1237.4 1119.20 1233.9 1119.50 1250.3 1119.80 1257.7 1120.10 1251.7 1120.40 1233.4 1120.70 1226.8 1121.00 1240.7 1121.30 1243.5 1121.60 1241.2 1121.90 1245.9 1122.20 1253.0 1122.50 1262.8 1122.80 1230.4 1123.10 1246.6 1123.40 1229.6 1123.70 1235.5 1124.00 1275.6 1124.30 1234.7 1124.60 1262.1 1124.90 1240.9 1125.20 1250.5 1125.50 1249.5 1125.80 1260.4 1126.10 1256.4 1126.40 1237.9 1126.70 1235.8 1127.00 1269.7 1127.30 1232.4 1127.60 1249.7 1127.90 1252.8 1128.20 1233.9 1128.50 1243.2 1128.80 1240.5 1129.10 1242.7 1129.40 1261.6 1129.70 1255.2 1130.00 1242.6 1130.30 1250.8 1130.60 1249.7 1130.90 1262.1 1131.20 1241.4 1131.50 1274.2 1131.80 1262.3 1132.10 1244.6 1132.40 1241.2 1132.70 1239.1 1133.00 1240.8 1133.30 1259.2 1133.60 1231.0 1133.90 1241.9 1134.20 1242.6 1134.50 1257.0 1134.80 1251.4 1135.10 1276.2 1135.40 1264.8 1135.70 1255.6 1136.00 1274.2 1136.30 1249.8 1136.60 1348.7 1136.90 1272.2 1137.20 1272.4 1137.50 1260.9 1137.80 1254.9 1138.10 1248.2 1138.40 1238.3 1138.70 1258.5 1139.00 1267.0 1139.30 1243.5 1139.60 1243.0 1139.90 1240.9 1140.20 1243.0 1140.50 1288.1 1140.80 1298.1 1141.10 1267.5 1141.40 1235.1 1141.70 1252.0 1142.00 1256.2 1142.30 1245.4 1142.60 1254.9 1142.90 1260.6 1143.20 1274.9 1143.50 1228.6 1143.80 1253.0 1144.10 1263.2 1144.40 1237.1 1144.70 1304.4 1145.00 1259.1 1145.30 1235.0 1145.60 1244.6 1145.90 1254.0 1146.20 1258.3 1146.50 1250.0 1146.80 1253.2 1147.10 1290.2 1147.40 1240.8 1147.70 1245.8 1148.00 1313.4 1148.30 1290.2 1148.60 1248.2 1148.90 1252.2 1149.20 1238.3 1149.50 1242.7 1149.80 1241.9 1150.10 1246.9 1150.40 1244.7 1150.70 1263.7 1151.00 1255.2 1151.30 1282.6 1151.60 1236.9 1151.90 1272.5 1152.20 1245.5 1152.50 1255.5 1152.80 1240.0 1153.10 1230.9 1153.40 1256.8 1153.70 1254.7 1154.00 1231.0 1154.30 1240.8 1154.60 1247.4 1154.90 1244.7 1155.20 1266.8 1155.50 1238.2 1155.80 1240.8 1156.10 1271.3 1156.40 1244.3 1156.70 1246.7 1157.00 1235.2 1157.30 1246.6 1157.60 1235.1 1157.90 1259.6 1158.20 1270.6 1158.50 1305.5 1158.80 1240.0 1159.10 1263.6 1159.40 1233.5 1159.70 1242.9 1160.00 1252.4 1160.30 1233.5 1160.60 1266.0 1160.90 1231.1 1161.20 1234.4 1161.50 1240.4 1161.80 1242.1 1162.10 1241.0 1162.40 1235.2 1162.70 1239.4 1163.00 1248.2 1163.30 1276.9 1163.60 1238.4 1163.90 1244.3 1164.20 1259.5 1164.50 1253.3 1164.80 1281.2 1165.10 1237.0 1165.40 1252.4 1165.70 1244.8 1166.00 1244.7 1166.30 1268.6 1166.60 1241.7 1166.90 1252.4 1167.20 1268.9 1167.50 1241.9 1167.80 1243.8 1168.10 1245.3 1168.40 1232.3 1168.70 1243.6 1169.00 1261.4 1169.30 1251.2 1169.60 1245.0 1169.90 1249.6 1170.20 1245.0 1170.50 1259.1 1170.80 1247.0 1171.10 1250.3 1171.40 1240.6 1171.70 1232.8 1172.00 1268.2 1172.30 1233.0 1172.60 1262.9 1172.90 1234.2 1173.20 1246.1 1173.50 1237.9 1173.80 1262.8 1174.10 1252.4 1174.40 1252.1 1174.70 1240.8 1175.00 1240.5 1175.30 1255.7 1175.60 1245.4 1175.90 1231.2 1176.20 1254.0 1176.50 1251.7 1176.80 1258.7 1177.10 1255.2 1177.40 1249.6 1177.70 1249.4 1178.00 1252.3 1178.30 1257.4 1178.60 1256.4 1178.90 1233.3 1179.20 1239.1 1179.50 1237.4 1179.80 1241.9 1180.10 1254.1 1180.40 1251.5 1180.70 1232.3 1181.00 1300.6 1181.30 1247.9 1181.60 1237.5 1181.90 1290.4 1182.20 1257.5 1182.50 1252.1 1182.80 1244.1 1183.10 1255.0 1183.40 1282.6 1183.70 1255.1 1184.00 1246.0 1184.30 1241.5 1184.60 1284.2 1184.90 1248.0 1185.20 1275.3 1185.50 1245.6 1185.80 1257.5 1186.10 1260.4 1186.40 1243.3 1186.70 1236.2 1187.00 1279.4 1187.30 1281.5 1187.60 1241.2 1187.90 1255.9 1188.20 1243.6 1188.50 1292.5 1188.80 1234.0 1189.10 1276.1 1189.40 1237.3 1189.70 1248.7 1190.00 1254.7 1190.30 1244.5 1190.60 1256.9 1190.90 1277.4 1191.20 1258.6 1191.50 1263.1 1191.80 1281.7 1192.10 1233.4 1192.40 1246.8 1192.70 1261.6 1193.00 1254.2 1193.30 1238.3 1193.60 1266.5 1193.90 1253.0 1194.20 1255.4 1194.50 1259.6 1194.80 1249.2 1195.10 1255.4 1195.40 1252.3 1195.70 1240.8 1196.00 1247.7 1196.30 1240.5 1196.60 1250.9 1196.90 1237.6 1197.20 1241.3 1197.50 1243.9 1197.80 1265.2 1198.10 1292.5 1198.40 1254.8 1198.70 1253.1 1199.00 1244.5 1199.30 1236.8 1199.60 1240.9 1199.90 1250.3 1200.20 1247.9 1200.50 1248.5 1200.80 1248.4 1201.10 1253.0 1201.40 1243.5 1201.70 1261.4 1202.00 1246.7 1202.30 1261.5 1202.60 1249.6 1202.90 1242.9 1203.20 1257.6 1203.50 1245.2 1203.80 1315.0 1204.10 1293.8 1204.40 1236.4 1204.70 1253.5 1205.00 1301.8 1205.30 1239.0 1205.60 1253.5 1205.90 1244.3 1206.20 1245.1 1206.50 1237.3 1206.80 1259.0 1207.10 1263.3 1207.40 1260.9 1207.70 1236.7 1208.00 1236.4 1208.30 1270.2 1208.60 1245.7 1208.90 1243.5 1209.20 1253.9 1209.50 1250.4 1209.80 1253.2 1210.10 1264.7 1210.40 1261.5 1210.70 1238.2 1211.00 1256.6 1211.30 1245.5 1211.60 1241.5 1211.90 1306.7 1212.20 1244.2 1212.50 1273.0 1212.80 1257.4 1213.10 1258.5 1213.40 1281.5 1213.70 1248.6 1214.00 1254.4 1214.30 1243.3 1214.60 1246.2 1214.90 1285.6 1215.20 1263.9 1215.50 1262.5 1215.80 1260.8 1216.10 1262.4 1216.40 1245.3 1216.70 1246.3 1217.00 1257.8" stroke="#b3c7e2" stroke-width="1.8" fill="none" stroke-linejoin="bevel" clip-path="url(#ce)"/>
<path d="M679 62L682 32L686 24.5L692 24.5L696 33L699 60L695 56L690 44L685 50L681 66Z" fill="#111" clip-path="url(#cb)"/>
<path d="M566.0 318.3L567.0 318.9L568.0 317.5L569.0 318.5L570.0 318.8L571.0 319.2L572.0 317.8L573.0 319.6L574.0 319.8L575.0 319.0L576.0 319.8L577.0 319.5L578.0 317.9L579.0 318.1L580.0 317.1L581.0 319.4L582.0 319.9L583.0 317.6L584.0 317.5L585.0 316.8L586.0 316.0L587.0 314.6L588.0 317.0L589.0 316.7L590.0 317.4L591.0 317.2L592.0 318.4L593.0 319.5L594.0 319.6L595.0 319.8L596.0 317.5L597.0 317.8L598.0 318.5L599.0 319.6L600.0 318.6L601.0 320.0L602.0 319.7L603.0 316.7L604.0 317.1L605.0 315.2L606.0 313.6L607.0 313.8L608.0 314.4L609.0 313.9L610.0 314.0L611.0 312.9L612.0 313.7L613.0 312.9L614.0 312.7L615.0 311.6L616.0 309.4L617.0 310.5L618.0 306.6L619.0 306.6L620.0 304.9L621.0 304.0L622.0 301.6L623.0 301.4L624.0 297.5L625.0 293.9L626.0 293.2L627.0 289.7L628.0 288.9L629.0 285.7L630.0 284.0L631.0 282.6L632.0 279.5L633.0 275.6L634.0 274.2L635.0 271.6L636.0 268.9L637.0 266.8L638.0 266.9L639.0 264.7L640.0 263.8L641.0 261.7L642.0 258.5L643.0 255.1L644.0 254.2L645.0 248.5L646.0 246.0L647.0 245.7L648.0 244.1L649.0 240.8L650.0 240.6L651.0 238.5L652.0 233.7L653.0 228.7L654.0 222.9L655.0 219.0L656.0 217.0L657.0 211.0L658.0 208.2L659.0 202.3L660.0 195.6L661.0 188.7L662.0 185.7L663.0 179.4L664.0 174.3L665.0 169.3L666.0 165.7L667.0 158.5L668.0 152.2L669.0 147.1L670.0 140.3L671.0 134.8L672.0 127.6L673.0 120.4L674.0 115.3L675.0 109.4L676.0 100.7L677.0 93.8L678.0 82.8L679.0 75.9L680.0 66.9L681.0 56.3L682.0 49.8L683.0 41.1L684.0 41.8L685.0 35.0L686.0 34.1L687.0 31.1L688.0 30.9L689.0 29.5L690.0 29.2L691.0 29.6L692.0 37.6L693.0 39.0L694.0 44.7L695.0 46.6L696.0 49.5L697.0 53.3L698.0 57.7L699.0 62.8L700.0 69.5L701.0 74.4L702.0 79.4L703.0 86.3L704.0 93.2L705.0 100.9L706.0 107.1L707.0 113.3L708.0 118.9L709.0 128.7L710.0 136.0L711.0 144.2L712.0 152.4L713.0 159.9L714.0 166.3L715.0 174.6L716.0 179.8L717.0 186.7L718.0 193.5L719.0 195.4L720.0 199.6L721.0 205.3L722.0 206.8L723.0 213.4L724.0 218.4L725.0 222.6L726.0 226.9L727.0 235.9L728.0 245.2L729.0 237.6L730.0 244.1L731.0 246.4L732.0 246.9L733.0 245.8L734.0 244.5L735.0 252.2L736.0 257.1L737.0 247.4L738.0 249.3L739.0 257.2L740.0 256.3L741.0 254.1L742.0 244.7L743.0 254.9L744.0 258.8L745.0 259.5L746.0 255.7L747.0 247.0L748.0 258.6L749.0 250.3L750.0 256.7L751.0 259.2L752.0 254.0L753.0 244.1L754.0 244.5L755.0 254.6L756.0 245.2L757.0 253.1L758.0 251.7L759.0 246.7L760.0 251.7L761.0 244.4L762.0 245.8L763.0 246.4L764.0 244.7L765.0 244.2L766.0 245.5L767.0 247.1L768.0 249.6L769.0 248.6L770.0 251.7L771.0 252.4L772.0 254.7L773.0 255.5L774.0 258.5L775.0 257.6L776.0 257.6L777.0 261.5L778.0 261.0L779.0 265.3L780.0 267.2L781.0 271.1L782.0 272.1L783.0 274.7L784.0 275.7L785.0 279.3L786.0 280.5L787.0 284.1L788.0 284.8L789.0 284.9L790.0 286.9L791.0 290.5L792.0 295.2L793.0 296.2L794.0 301.5L795.0 302.8L796.0 302.1L797.0 305.9L798.0 305.2L799.0 308.3L800.0 313.3L801.0 314.9L802.0 320.5L803.0 321.4L804.0 323.2L805.0 327.6L806.0 327.0L807.0 331.5L808.0 330.5L809.0 332.5L810.0 337.4L811.0 339.4L812.0 340.7L813.0 343.3L814.0 349.8L815.0 350.6L816.0 353.3L817.0 352.6L818.0 356.6L819.0 357.7L820.0 359.2L821.0 361.6L822.0 364.7L823.0 365.0L824.0 366.4L825.0 366.7L826.0 370.7L827.0 371.9L828.0 374.3L829.0 374.7L830.0 378.2L831.0 378.8L832.0 381.0L833.0 382.7L834.0 385.2L835.0 386.1L836.0 387.3L837.0 389.4L838.0 392.5L839.0 392.8L840.0 397.2L841.0 395.3L842.0 395.9L843.0 393.5L844.0 396.0L845.0 398.4L846.0 397.9L847.0 397.5L848.0 397.9L849.0 396.8L850.0 397.3L851.0 397.5L852.0 398.5L853.0 398.7L854.0 400.8L855.0 397.5L856.0 397.5L857.0 397.2L858.0 396.4L859.0 397.0L860.0 396.7L861.0 397.2L862.0 395.1L863.0 398.4L864.0 395.9L865.0 397.9L866.0 396.7L867.0 396.4L868.0 395.4L869.0 397.2L870.0 393.7L871.0 394.9L872.0 392.4L873.0 392.9L874.0 390.8L875.0 387.5L876.0 386.6L877.0 384.8L878.0 384.5L879.0 382.3L880.0 382.0L881.0 382.7L882.0 375.0L883.0 368.7L884.0 363.3L885.0 356.5L886.0 352.2L887.0 347.2L888.0 340.1L889.0 335.4L890.0 335.7L891.0 339.3L892.0 340.6L893.0 342.2L894.0 346.8L895.0 343.9L896.0 343.6L897.0 346.0L898.0 344.1L899.0 343.1L900.0 345.7L901.0 348.0L902.0 346.6L903.0 346.5L904.0 346.0L905.0 346.4L906.0 350.2L907.0 349.0L908.0 351.3L909.0 348.2L910.0 349.4L911.0 348.3L912.0 349.4L913.0 347.7L914.0 348.2L915.0 349.5L916.0 349.8L917.0 349.5L918.0 350.2L919.0 354.0L920.0 350.8L921.0 352.2L922.0 351.8L923.0 352.5L924.0 350.9L925.0 352.0L926.0 351.3L927.0 353.5L928.0 355.4L929.0 354.5L930.0 355.9L931.0 353.6L932.0 353.6L933.0 356.5L934.0 357.2L935.0 358.4L936.0 358.5L937.0 360.3L938.0 361.6L939.0 363.4L940.0 362.0L941.0 363.6L942.0 366.1L943.0 365.1L944.0 365.6L945.0 367.4L946.0 367.4L947.0 370.9L948.0 371.8L949.0 370.5L950.0 370.5L951.0 370.1L952.0 370.4L953.0 369.5L954.0 370.6L955.0 371.5L956.0 370.6L957.0 370.2L958.0 373.0L959.0 371.7L960.0 373.6L961.0 375.2L962.0 376.8L963.0 375.7L964.0 376.2L965.0 375.0L966.0 376.0L967.0 374.7L968.0 375.6L969.0 374.1L970.0 374.0L971.0 372.7L972.0 371.7L973.0 372.6L974.0 371.4L975.0 372.6L976.0 371.6L977.0 371.3L978.0 369.4L979.0 371.3L980.0 369.3L981.0 368.0L982.0 367.4L983.0 367.0L984.0 366.6L985.0 367.4L986.0 365.0L987.0 363.0L988.0 364.7L989.0 362.8L990.0 359.6L991.0 358.3L992.0 357.3L993.0 356.8L994.0 357.4L995.0 357.5L996.0 355.9L997.0 353.8L998.0 353.9L999.0 351.5L1000.0 349.2L1001.0 345.7L1002.0 345.8L1003.0 345.8L1004.0 344.4L1005.0 340.9L1006.0 343.5L1007.0 342.8L1008.0 345.6L1009.0 345.3L1010.0 348.0L1011.0 347.2L1012.0 344.4L1013.0 345.1L1014.0 347.4L1015.0 346.7L1016.0 347.8L1017.0 348.9L1018.0 351.3L1019.0 352.8L1020.0 351.9L1021.0 354.4L1022.0 353.7L1023.0 351.4L1024.0 354.0L1025.0 352.1L1026.0 350.4L1027.0 354.2L1028.0 350.6L1029.0 352.9L1030.0 352.7L1031.0 353.7L1032.0 351.1L1033.0 350.0L1034.0 349.8L1035.0 350.0L1036.0 352.0L1037.0 351.7L1038.0 353.8L1039.0 351.7L1040.0 352.1L1041.0 351.6L1042.0 354.5L1043.0 354.8L1044.0 355.7L1045.0 355.2L1046.0 354.7L1047.0 353.0L1048.0 355.1L1049.0 353.0L1050.0 350.5L1051.0 351.0L1052.0 350.6L1053.0 353.1L1054.0 353.7L1055.0 351.2L1056.0 353.9L1057.0 352.3L1058.0 354.0L1059.0 354.4L1060.0 353.1L1061.0 353.5L1062.0 351.5L1063.0 350.0L1064.0 351.9L1065.0 352.1L1066.0 350.4L1067.0 350.6L1068.0 349.6L1069.0 347.8L1070.0 348.3L1071.0 348.5L1072.0 348.8L1073.0 349.6L1074.0 348.4L1075.0 350.8L1076.0 350.3L1077.0 350.8L1078.0 350.0L1079.0 349.6L1080.0 348.7L1081.0 349.4L1082.0 347.4L1083.0 347.8L1084.0 347.7L1085.0 346.6L1086.0 345.2L1087.0 344.2L1088.0 344.0L1089.0 344.9L1090.0 345.6L1091.0 345.8L1092.0 345.1L1093.0 343.0L1094.0 344.9L1095.0 342.2L1096.0 343.9L1097.0 341.2L1098.0 343.9L1099.0 343.8L1100.0 345.2L1101.0 345.2L1102.0 344.6L1103.0 344.9L1104.0 344.1L1105.0 343.3L1106.0 341.3L1107.0 342.0L1108.0 342.9L1109.0 339.8L1110.0 342.2L1111.0 340.2L1112.0 339.3L1113.0 337.4L1114.0 338.6L1115.0 337.4L1116.0 339.0L1117.0 339.6L1118.0 339.3L1119.0 337.7L1120.0 336.3L1121.0 334.7L1122.0 336.5L1123.0 335.8L1124.0 336.3L1125.0 334.8L1126.0 336.8L1127.0 334.2L1128.0 334.8L1129.0 334.8L1130.0 336.4L1131.0 337.3L1132.0 334.1L1133.0 335.8L1134.0 336.2L1135.0 333.3L1136.0 332.0L1137.0 333.4L1138.0 333.8L1139.0 334.1L1140.0 333.7L1141.0 332.6L1142.0 332.9L1143.0 333.1L1144.0 334.3L1145.0 331.7L1146.0 331.7L1147.0 333.0L1148.0 334.5L1149.0 331.4L1150.0 330.8L1151.0 331.2L1152.0 333.1L1153.0 333.3L1154.0 331.7L1155.0 331.9L1156.0 333.7L1157.0 334.1L1158.0 334.5L1159.0 333.9L1160.0 330.5L1161.0 331.4L1162.0 332.1L1163.0 332.5L1164.0 329.8L1165.0 331.9L1166.0 331.0L1167.0 331.3L1168.0 327.8L1169.0 328.9L1170.0 328.7L1171.0 327.0L1172.0 325.5L1173.0 325.8L1174.0 325.7L1175.0 325.4L1176.0 325.7L1177.0 327.6L1178.0 325.6L1179.0 328.0L1180.0 327.6L1181.0 327.6L1182.0 327.3L1183.0 326.4L1184.0 326.1L1185.0 325.2L1186.0 322.8L1187.0 324.0L1188.0 320.4L1189.0 320.3L1190.0 320.0L1191.0 319.6L1192.0 319.3L1193.0 318.6L1194.0 318.9L1195.0 319.0L1196.0 316.3L1197.0 317.6L1198.0 318.1L1199.0 316.9L1200.0 315.3L1201.0 316.7L1202.0 315.3L1203.0 317.1L1204.0 316.7L1205.0 319.0L1206.0 319.3L1207.0 315.4L1208.0 317.8L1209.0 317.3L1210.0 315.2L1211.0 314.8L1212.0 316.5L1213.0 316.3L1214.0 318.1L1215.0 318.5" stroke="#111" stroke-width="6.3" fill="none" stroke-linejoin="round" clip-path="url(#cb)"/>
<line x1="753.5" y1="955" x2="1033.2" y2="763.6" stroke="#3a289c" stroke-width="3.8"/>
<path d="M566.0 911.0L567.0 913.9L568.0 913.4L569.0 912.1L570.0 911.8L571.0 912.5L572.0 914.3L573.0 912.3L574.0 914.8L575.0 913.7L576.0 912.1L577.0 912.7L578.0 911.9L579.0 910.4L580.0 912.8L581.0 912.4L582.0 913.0L583.0 913.8L584.0 912.3L585.0 914.4L586.0 914.0L587.0 914.9L588.0 912.1L589.0 913.3L590.0 912.2L591.0 912.3L592.0 913.5L593.0 911.3L594.0 913.5L595.0 913.6L596.0 913.9L597.0 913.1L598.0 912.0L599.0 911.9L600.0 912.7L601.0 910.9L602.0 910.0L603.0 911.3L604.0 912.0L605.0 912.5L606.0 911.2L607.0 913.9L608.0 912.8L609.0 914.6L610.0 912.4L611.0 915.2L612.0 913.9L613.0 914.9L614.0 914.7L615.0 914.5L616.0 912.5L617.0 913.5L618.0 913.4L619.0 914.7L620.0 912.3L621.0 911.9L622.0 911.1L623.0 911.2L624.0 913.9L625.0 914.1L626.0 912.3L627.0 913.4L628.0 912.4L629.0 912.5L630.0 911.9L631.0 913.2L632.0 912.3L633.0 912.7L634.0 913.9L635.0 913.3L636.0 914.5L637.0 916.5L638.0 913.9L639.0 913.9L640.0 915.9L641.0 913.2L642.0 913.5L643.0 915.6L644.0 915.0L645.0 913.9L646.0 913.5L647.0 913.9L648.0 913.6L649.0 914.8L650.0 915.0L651.0 914.7L652.0 915.4L653.0 915.8L654.0 916.0L655.0 915.5L656.0 915.1L657.0 911.7L658.0 911.8L659.0 911.8L660.0 913.1L661.0 912.9L662.0 912.6L663.0 914.5L664.0 913.4L665.0 913.1L666.0 913.7L667.0 914.3L668.0 914.8L669.0 914.7L670.0 914.4L671.0 913.3L672.0 913.7L673.0 913.2L674.0 912.4L675.0 913.3L676.0 911.8L677.0 913.2L678.0 912.7L679.0 911.2L680.0 912.9L681.0 912.1L682.0 912.6L683.0 913.1L684.0 913.5L685.0 913.9L686.0 913.3L687.0 911.7L688.0 912.8L689.0 912.2L690.0 911.3L691.0 913.4L692.0 913.6L693.0 915.4L694.0 914.1L695.0 915.2L696.0 913.6L697.0 911.7L698.0 913.1L699.0 912.4L700.0 913.8L701.0 913.0L702.0 913.6L703.0 916.6L704.0 913.9L705.0 914.3L706.0 914.5L707.0 913.6L708.0 915.3L709.0 915.3L710.0 913.5L711.0 913.1L712.0 915.1L713.0 914.3L714.0 913.2L715.0 914.8L716.0 913.7L717.0 913.3L718.0 913.3L719.0 912.9L720.0 911.6L721.0 912.4L722.0 912.5L723.0 911.7L724.0 910.1L725.0 912.4L726.0 910.4L727.0 912.1L728.0 913.6L729.0 913.2L730.0 914.2L731.0 912.8L732.0 910.3L733.0 909.0L734.0 909.1L735.0 910.1L736.0 908.9L737.0 909.4L738.0 911.0L739.0 909.1L740.0 909.3L741.0 908.3L742.0 908.7L743.0 905.8L744.0 906.3L745.0 908.2L746.0 907.9L747.0 905.9L748.0 905.9L749.0 906.0L750.0 907.0L751.0 907.1L752.0 903.9L753.0 902.8L754.0 903.1L755.0 901.3L756.0 901.7L757.0 901.3L758.0 900.1L759.0 898.7L760.0 897.2L761.0 895.1L762.0 896.8L763.0 895.1L764.0 895.0L765.0 895.2L766.0 895.9L767.0 893.3L768.0 893.4L769.0 892.5L770.0 888.3L771.0 888.7L772.0 890.1L773.0 889.0L774.0 889.2L775.0 886.0L776.0 887.1L777.0 888.4L778.0 886.6L779.0 887.1L780.0 888.2L781.0 884.8L782.0 884.2L783.0 886.5L784.0 884.5L785.0 881.9L786.0 883.7L787.0 880.8L788.0 879.6L789.0 879.5L790.0 877.3L791.0 878.1L792.0 879.0L793.0 876.8L794.0 878.3L795.0 872.6L796.0 871.7L797.0 870.1L798.0 870.6L799.0 868.2L800.0 870.4L801.0 869.7L802.0 869.9L803.0 870.3L804.0 869.1L805.0 868.9L806.0 864.3L807.0 865.3L808.0 868.0L809.0 865.2L810.0 864.5L811.0 865.3L812.0 863.7L813.0 866.7L814.0 865.5L815.0 861.6L816.0 864.4L817.0 861.0L818.0 858.6L819.0 861.3L820.0 863.9L821.0 861.9L822.0 861.3L823.0 862.7L824.0 862.6L825.0 865.4L826.0 864.5L827.0 865.2L828.0 860.2L829.0 857.4L830.0 857.6L831.0 854.6L832.0 854.0L833.0 852.0L834.0 850.2L835.0 851.4L836.0 851.8L837.0 848.1L838.0 848.4L839.0 845.2L840.0 846.7L841.0 843.7L842.0 839.9L843.0 841.3L844.0 836.7L845.0 833.9L846.0 831.7L847.0 834.9L848.0 833.6L849.0 831.2L850.0 831.3L851.0 830.2L852.0 825.4L853.0 826.7L854.0 824.9L855.0 823.4L856.0 816.5L857.0 816.3L858.0 813.4L859.0 813.4L860.0 809.4L861.0 809.8L862.0 810.7L863.0 807.1L864.0 806.9L865.0 807.7L866.0 802.6L867.0 809.7L868.0 809.1L869.0 812.3L870.0 814.1L871.0 819.0L872.0 817.4L873.0 816.9L874.0 812.3L875.0 814.1L876.0 811.9L877.0 809.3L878.0 805.2L879.0 803.7L880.0 802.6L881.0 798.6L882.0 800.7L883.0 795.1L884.0 794.8L885.0 788.2L886.0 787.5L887.0 786.1L888.0 783.5L889.0 780.6L890.0 776.9L891.0 777.4L892.0 775.7L893.0 776.8L894.0 775.4L895.0 773.1L896.0 770.9L897.0 764.8L898.0 761.8L899.0 761.6L900.0 758.8L901.0 757.8L902.0 758.6L903.0 755.4L904.0 756.0L905.0 753.5L906.0 751.6L907.0 754.4L908.0 750.2L909.0 753.1L910.0 750.9L911.0 750.2L912.0 746.3L913.0 747.8L914.0 747.1L915.0 741.1L916.0 739.6L917.0 737.7L918.0 734.0L919.0 733.7L920.0 731.6L921.0 728.5L922.0 729.0L923.0 724.2L924.0 716.6L925.0 711.8L926.0 710.7L927.0 708.7L928.0 702.5L929.0 706.3L930.0 710.9L931.0 708.8L932.0 698.4L933.0 702.8L934.0 703.5L935.0 702.8L936.0 697.6L937.0 704.6L938.0 705.4L939.0 702.7L940.0 708.0L941.0 702.6L942.0 694.3L943.0 697.5L944.0 702.8L945.0 693.5L946.0 705.3L947.0 702.6L948.0 704.6L949.0 697.3L950.0 696.1L951.0 707.2L952.0 701.1L953.0 699.2L954.0 699.4L955.0 704.4L956.0 700.3L957.0 707.4L958.0 700.3L959.0 710.4L960.0 705.6L961.0 700.5L962.0 702.9L963.0 711.7L964.0 707.1L965.0 715.5L966.0 720.5L967.0 721.9L968.0 712.6L969.0 720.8L970.0 718.8L971.0 720.6L972.0 713.8L973.0 716.7L974.0 716.8L975.0 719.5L976.0 718.9L977.0 718.5L978.0 720.8L979.0 724.5L980.0 725.6L981.0 725.0L982.0 723.6L983.0 728.7L984.0 731.1L985.0 730.5L986.0 733.6L987.0 734.2L988.0 734.5L989.0 739.2L990.0 738.0L991.0 739.2L992.0 744.7L993.0 742.4L994.0 747.2L995.0 751.0L996.0 752.7L997.0 757.7L998.0 761.4L999.0 766.9L1000.0 771.4L1001.0 771.2L1002.0 770.8L1003.0 772.4L1004.0 773.1L1005.0 775.9L1006.0 775.1L1007.0 776.8L1008.0 780.8L1009.0 780.5L1010.0 785.8L1011.0 786.2L1012.0 785.4L1013.0 786.6L1014.0 791.2L1015.0 791.6L1016.0 795.9L1017.0 799.0L1018.0 802.6L1019.0 802.2L1020.0 804.5L1021.0 807.4L1022.0 805.7L1023.0 809.3L1024.0 814.2L1025.0 814.7L1026.0 819.6L1027.0 815.8L1028.0 816.1L1029.0 817.7L1030.0 818.4L1031.0 818.6L1032.0 818.5L1033.0 820.2L1034.0 822.9L1035.0 824.7L1036.0 824.9L1037.0 824.7L1038.0 827.9L1039.0 825.9L1040.0 825.5L1041.0 829.0L1042.0 826.5L1043.0 827.5L1044.0 832.1L1045.0 830.2L1046.0 832.2L1047.0 832.6L1048.0 836.9L1049.0 836.9L1050.0 835.7L1051.0 836.1L1052.0 841.0L1053.0 838.2L1054.0 841.9L1055.0 842.5L1056.0 842.7L1057.0 842.9L1058.0 843.3L1059.0 843.9L1060.0 847.2L1061.0 846.4L1062.0 849.5L1063.0 850.1L1064.0 852.3L1065.0 856.4L1066.0 856.5L1067.0 858.5L1068.0 860.2L1069.0 858.7L1070.0 863.8L1071.0 865.4L1072.0 866.0L1073.0 866.1L1074.0 868.9L1075.0 870.7L1076.0 868.8L1077.0 869.5L1078.0 870.3L1079.0 867.8L1080.0 867.9L1081.0 866.2L1082.0 864.9L1083.0 866.2L1084.0 863.7L1085.0 865.4L1086.0 866.6L1087.0 865.9L1088.0 862.7L1089.0 866.0L1090.0 863.5L1091.0 866.1L1092.0 865.1L1093.0 864.3L1094.0 863.5L1095.0 866.2L1096.0 862.5L1097.0 865.9L1098.0 862.6L1099.0 862.6L1100.0 863.7L1101.0 863.4L1102.0 867.7L1103.0 864.7L1104.0 866.4L1105.0 864.7L1106.0 865.0L1107.0 866.1L1108.0 864.1L1109.0 861.9L1110.0 863.3L1111.0 860.4L1112.0 860.0L1113.0 863.2L1114.0 864.0L1115.0 863.5L1116.0 863.3L1117.0 864.7L1118.0 865.1L1119.0 863.5L1120.0 861.8L1121.0 863.9L1122.0 863.3L1123.0 864.4L1124.0 862.5L1125.0 860.9L1126.0 861.3L1127.0 861.6L1128.0 865.0L1129.0 865.5L1130.0 865.5L1131.0 864.1L1132.0 865.7L1133.0 864.0L1134.0 863.9L1135.0 863.3L1136.0 867.9L1137.0 866.0L1138.0 866.9L1139.0 866.0L1140.0 867.5L1141.0 868.0L1142.0 867.3L1143.0 868.5L1144.0 866.1L1145.0 867.1L1146.0 866.9L1147.0 863.5L1148.0 866.0L1149.0 861.5L1150.0 861.6L1151.0 863.5L1152.0 859.2L1153.0 859.1L1154.0 858.9L1155.0 861.3L1156.0 861.3L1157.0 857.6L1158.0 859.4L1159.0 860.7L1160.0 859.5L1161.0 858.9L1162.0 858.4L1163.0 857.6L1164.0 857.1L1165.0 856.6L1166.0 859.5L1167.0 859.3L1168.0 857.6L1169.0 862.6L1170.0 863.6L1171.0 860.8L1172.0 860.5L1173.0 862.9L1174.0 861.8L1175.0 863.2L1176.0 861.5L1177.0 865.2L1178.0 864.8L1179.0 862.9L1180.0 862.7L1181.0 863.7L1182.0 863.4L1183.0 863.8L1184.0 867.1L1185.0 864.8L1186.0 864.1L1187.0 864.2L1188.0 864.5L1189.0 866.7L1190.0 867.3L1191.0 866.3L1192.0 869.1L1193.0 868.7L1194.0 867.5L1195.0 869.9L1196.0 868.6L1197.0 868.9L1198.0 871.8L1199.0 870.2L1200.0 869.8L1201.0 870.7L1202.0 871.5L1203.0 870.9L1204.0 872.3L1205.0 871.1L1206.0 869.9L1207.0 873.9L1208.0 870.6L1209.0 872.6L1210.0 873.4L1211.0 875.9L1212.0 877.1L1213.0 878.6L1214.0 881.0L1215.0 880.2" stroke="#111" stroke-width="6.3" fill="none" stroke-linejoin="round" clip-path="url(#cd)"/>
<line x1="729" y1="1290" x2="780" y2="1254" stroke="#e0301e" stroke-width="3.4"/>
<rect x="140" y="19" width="246" height="600" fill="none" stroke="#111" stroke-width="2.2"/>
<line x1="188.8" y1="19" x2="188.8" y2="26" stroke="#333" stroke-width="1.6"/>
<line x1="188.8" y1="619" x2="188.8" y2="612" stroke="#333" stroke-width="1.6"/>
<line x1="312.3" y1="19" x2="312.3" y2="26" stroke="#333" stroke-width="1.6"/>
<line x1="312.3" y1="619" x2="312.3" y2="612" stroke="#333" stroke-width="1.6"/>
<line x1="140" y1="66.5" x2="147" y2="66.5" stroke="#333" stroke-width="1.6"/>
<line x1="386" y1="66.5" x2="379" y2="66.5" stroke="#333" stroke-width="1.6"/>
<line x1="140" y1="186.7" x2="147" y2="186.7" stroke="#333" stroke-width="1.6"/>
<line x1="386" y1="186.7" x2="379" y2="186.7" stroke="#333" stroke-width="1.6"/>
<line x1="140" y1="306.9" x2="147" y2="306.9" stroke="#333" stroke-width="1.6"/>
<line x1="386" y1="306.9" x2="379" y2="306.9" stroke="#333" stroke-width="1.6"/>
<line x1="140" y1="427.1" x2="147" y2="427.1" stroke="#333" stroke-width="1.6"/>
<line x1="386" y1="427.1" x2="379" y2="427.1" stroke="#333" stroke-width="1.6"/>
<line x1="140" y1="547.4" x2="147" y2="547.4" stroke="#333" stroke-width="1.6"/>
<line x1="386" y1="547.4" x2="379" y2="547.4" stroke="#333" stroke-width="1.6"/>
<rect x="566" y="19" width="650" height="600" fill="none" stroke="#111" stroke-width="2.2"/>
<line x1="613.2" y1="19" x2="613.2" y2="26" stroke="#333" stroke-width="1.6"/>
<line x1="613.2" y1="619" x2="613.2" y2="612" stroke="#333" stroke-width="1.6"/>
<line x1="725.7" y1="19" x2="725.7" y2="26" stroke="#333" stroke-width="1.6"/>
<line x1="725.7" y1="619" x2="725.7" y2="612" stroke="#333" stroke-width="1.6"/>
<line x1="838.2" y1="19" x2="838.2" y2="26" stroke="#333" stroke-width="1.6"/>
<line x1="838.2" y1="619" x2="838.2" y2="612" stroke="#333" stroke-width="1.6"/>
<line x1="950.7" y1="19" x2="950.7" y2="26" stroke="#333" stroke-width="1.6"/>
<line x1="950.7" y1="619" x2="950.7" y2="612" stroke="#333" stroke-width="1.6"/>
<line x1="1063.2" y1="19" x2="1063.2" y2="26" stroke="#333" stroke-width="1.6"/>
<line x1="1063.2" y1="619" x2="1063.2" y2="612" stroke="#333" stroke-width="1.6"/>
<line x1="1175.7" y1="19" x2="1175.7" y2="26" stroke="#333" stroke-width="1.6"/>
<line x1="1175.7" y1="619" x2="1175.7" y2="612" stroke="#333" stroke-width="1.6"/>
<line x1="566" y1="66.2" x2="573" y2="66.2" stroke="#333" stroke-width="1.6"/>
<line x1="566" y1="186.6" x2="573" y2="186.6" stroke="#333" stroke-width="1.6"/>
<line x1="566" y1="307" x2="573" y2="307" stroke="#333" stroke-width="1.6"/>
<line x1="566" y1="427.4" x2="573" y2="427.4" stroke="#333" stroke-width="1.6"/>
<line x1="566" y1="547.8" x2="573" y2="547.8" stroke="#333" stroke-width="1.6"/>
<line x1="1216" y1="32.8" x2="1209" y2="32.8" stroke="#333" stroke-width="1.6"/>
<line x1="1216" y1="175.9" x2="1209" y2="175.9" stroke="#333" stroke-width="1.6"/>
<line x1="1216" y1="319.0" x2="1209" y2="319.0" stroke="#333" stroke-width="1.6"/>
<line x1="1216" y1="462.1" x2="1209" y2="462.1" stroke="#333" stroke-width="1.6"/>
<line x1="1216" y1="605.2" x2="1209" y2="605.2" stroke="#333" stroke-width="1.6"/>
<rect x="140" y="686.5" width="246" height="454.0" fill="none" stroke="#111" stroke-width="2.2"/>
<line x1="209.9" y1="686.5" x2="209.9" y2="693.5" stroke="#333" stroke-width="1.6"/>
<line x1="209.9" y1="1140.5" x2="209.9" y2="1133.5" stroke="#333" stroke-width="1.6"/>
<line x1="140" y1="724.3" x2="147" y2="724.3" stroke="#333" stroke-width="1.6"/>
<line x1="386" y1="724.3" x2="379" y2="724.3" stroke="#333" stroke-width="1.6"/>
<line x1="140" y1="913.6" x2="147" y2="913.6" stroke="#333" stroke-width="1.6"/>
<line x1="386" y1="913.6" x2="379" y2="913.6" stroke="#333" stroke-width="1.6"/>
<line x1="140" y1="1102.9" x2="147" y2="1102.9" stroke="#333" stroke-width="1.6"/>
<line x1="386" y1="1102.9" x2="379" y2="1102.9" stroke="#333" stroke-width="1.6"/>
<rect x="566" y="686.5" width="650" height="454.0" fill="none" stroke="#111" stroke-width="2.2"/>
<line x1="728.5" y1="686.5" x2="728.5" y2="693.5" stroke="#333" stroke-width="1.6"/>
<line x1="728.5" y1="1140.5" x2="728.5" y2="1133.5" stroke="#333" stroke-width="1.6"/>
<line x1="891" y1="686.5" x2="891" y2="693.5" stroke="#333" stroke-width="1.6"/>
<line x1="891" y1="1140.5" x2="891" y2="1133.5" stroke="#333" stroke-width="1.6"/>
<line x1="1053.5" y1="686.5" x2="1053.5" y2="693.5" stroke="#333" stroke-width="1.6"/>
<line x1="1053.5" y1="1140.5" x2="1053.5" y2="1133.5" stroke="#333" stroke-width="1.6"/>
<line x1="566" y1="724.3" x2="573" y2="724.3" stroke="#333" stroke-width="1.6"/>
<line x1="566" y1="913.6" x2="573" y2="913.6" stroke="#333" stroke-width="1.6"/>
<line x1="566" y1="1102.9" x2="573" y2="1102.9" stroke="#333" stroke-width="1.6"/>
<line x1="1216" y1="696.2" x2="1209" y2="696.2" stroke="#333" stroke-width="1.6"/>
<line x1="1216" y1="805.0" x2="1209" y2="805.0" stroke="#333" stroke-width="1.6"/>
<line x1="1216" y1="913.8" x2="1209" y2="913.8" stroke="#333" stroke-width="1.6"/>
<line x1="1216" y1="1022.0" x2="1209" y2="1022.0" stroke="#333" stroke-width="1.6"/>
<line x1="1216" y1="1130.2" x2="1209" y2="1130.2" stroke="#333" stroke-width="1.6"/>
<rect x="566" y="1203.5" width="650" height="161.0" fill="none" stroke="#111" stroke-width="2.2"/>
<line x1="728.5" y1="1203.5" x2="728.5" y2="1210.5" stroke="#333" stroke-width="1.6"/>
<line x1="728.5" y1="1364.5" x2="728.5" y2="1357.5" stroke="#333" stroke-width="1.6"/>
<line x1="891" y1="1203.5" x2="891" y2="1210.5" stroke="#333" stroke-width="1.6"/>
<line x1="891" y1="1364.5" x2="891" y2="1357.5" stroke="#333" stroke-width="1.6"/>
<line x1="1053.5" y1="1203.5" x2="1053.5" y2="1210.5" stroke="#333" stroke-width="1.6"/>
<line x1="1053.5" y1="1364.5" x2="1053.5" y2="1357.5" stroke="#333" stroke-width="1.6"/>
<line x1="566" y1="1230.6" x2="573" y2="1230.6" stroke="#333" stroke-width="1.6"/>
<line x1="1216" y1="1230.6" x2="1209" y2="1230.6" stroke="#333" stroke-width="1.6"/>
<line x1="566" y1="1284.3" x2="573" y2="1284.3" stroke="#333" stroke-width="1.6"/>
<line x1="1216" y1="1284.3" x2="1209" y2="1284.3" stroke="#333" stroke-width="1.6"/>
<line x1="566" y1="1338" x2="573" y2="1338" stroke="#333" stroke-width="1.6"/>
<line x1="1216" y1="1338" x2="1209" y2="1338" stroke="#333" stroke-width="1.6"/>
<g clip-path="url(#cb)">
<path d="M622 320V380M618.25 320h7.5M618.25 380h7.5" stroke="#111" stroke-width="2.0" fill="none"/>
<path d="M630 292.3V313.3M626.25 292.3h7.5M626.25 313.3h7.5" stroke="#111" stroke-width="2.0" fill="none"/>
<path d="M638.2 310V344M634.45 310h7.5M634.45 344h7.5" stroke="#111" stroke-width="2.0" fill="none"/>
<path d="M646.4 287.5V336.5M642.65 287.5h7.5M642.65 336.5h7.5" stroke="#111" stroke-width="2.0" fill="none"/>
<path d="M653.2 258V280M649.45 258h7.5M649.45 280h7.5" stroke="#111" stroke-width="2.0" fill="none"/>
<path d="M662.1 253.4V286.3M658.35 253.4h7.5M658.35 286.3h7.5" stroke="#111" stroke-width="2.0" fill="none"/>
<path d="M670.4 285V308.8M666.65 285h7.5M666.65 308.8h7.5" stroke="#111" stroke-width="2.0" fill="none"/>
<path d="M678.3 251.9V305.8M674.55 251.9h7.5M674.55 305.8h7.5" stroke="#111" stroke-width="2.0" fill="none"/>
<path d="M685.8 228.7V261.6M682.05 228.7h7.5M682.05 261.6h7.5" stroke="#111" stroke-width="2.0" fill="none"/>
<path d="M693.6 225V250M689.85 225h7.5M689.85 250h7.5" stroke="#111" stroke-width="2.0" fill="none"/>
<path d="M701.8 215V235M698.05 215h7.5M698.05 235h7.5" stroke="#111" stroke-width="2.0" fill="none"/>
<path d="M710 195.7V222M706.25 195.7h7.5M706.25 222h7.5" stroke="#111" stroke-width="2.0" fill="none"/>
<path d="M718.3 219.7V245.9M714.55 219.7h7.5M714.55 245.9h7.5" stroke="#111" stroke-width="2.0" fill="none"/>
<path d="M726.2 242V284.8M722.45 242h7.5M722.45 284.8h7.5" stroke="#111" stroke-width="2.0" fill="none"/>
<path d="M733.7 207V245M729.95 207h7.5M729.95 245h7.5" stroke="#111" stroke-width="2.0" fill="none"/>
<path d="M742.3 206.2V253.4M738.55 206.2h7.5M738.55 253.4h7.5" stroke="#111" stroke-width="2.0" fill="none"/>
<path d="M750.5 235.4V299.8M746.75 235.4h7.5M746.75 299.8h7.5" stroke="#111" stroke-width="2.0" fill="none"/>
<path d="M758.4 326V427.6M754.65 326h7.5M754.65 427.6h7.5" stroke="#111" stroke-width="2.0" fill="none"/>
<path d="M766.5 368.4V435M762.75 368.4h7.5M762.75 435h7.5" stroke="#111" stroke-width="2.0" fill="none"/>
<path d="M774.3 400.4V520M770.55 400.4h7.5M770.55 520h7.5" stroke="#111" stroke-width="2.0" fill="none"/>
<path d="M782.1 487.5V555.3M778.35 487.5h7.5M778.35 555.3h7.5" stroke="#111" stroke-width="2.0" fill="none"/>
<path d="M790.4 406.4V507.7M786.65 406.4h7.5M786.65 507.7h7.5" stroke="#111" stroke-width="2.0" fill="none"/>
<path d="M799.2 442.7V549M795.45 442.7h7.5M795.45 549h7.5" stroke="#111" stroke-width="2.0" fill="none"/>
<path d="M808 457.8V504.4M804.25 457.8h7.5M804.25 504.4h7.5" stroke="#111" stroke-width="2.0" fill="none"/>
<path d="M821.2 410.2V575.7M817.45 410.2h7.5M817.45 575.7h7.5" stroke="#111" stroke-width="2.0" fill="none"/>
<path d="M836.5 399.4V568.6M832.75 399.4h7.5M832.75 568.6h7.5" stroke="#111" stroke-width="2.0" fill="none"/>
<path d="M846.4 403V517M842.65 403h7.5M842.65 517h7.5" stroke="#111" stroke-width="2.0" fill="none"/>
<path d="M857.4 364.6V512.5M853.65 364.6h7.5M853.65 512.5h7.5" stroke="#111" stroke-width="2.0" fill="none"/>
<path d="M866.5 366.6V528.6M862.75 366.6h7.5M862.75 528.6h7.5" stroke="#111" stroke-width="2.0" fill="none"/>
<path d="M874.3 265.6V343.2M870.55 265.6h7.5M870.55 343.2h7.5" stroke="#111" stroke-width="2.0" fill="none"/>
<path d="M882.6 231.7V331.5M878.85 231.7h7.5M878.85 331.5h7.5" stroke="#111" stroke-width="2.0" fill="none"/>
<path d="M890.7 156.5V208.9M886.95 156.5h7.5M886.95 208.9h7.5" stroke="#111" stroke-width="2.0" fill="none"/>
<path d="M902 231.7V288.8M898.25 231.7h7.5M898.25 288.8h7.5" stroke="#111" stroke-width="2.0" fill="none"/>
<path d="M910.8 241.3V325.2M907.05 241.3h7.5M907.05 325.2h7.5" stroke="#111" stroke-width="2.0" fill="none"/>
<path d="M922.5 248.4V355M918.75 248.4h7.5M918.75 355h7.5" stroke="#111" stroke-width="2.0" fill="none"/>
<path d="M931.3 236.7V451M927.55 236.7h7.5M927.55 451h7.5" stroke="#111" stroke-width="2.0" fill="none"/>
<path d="M939.9 298.9V351.7M936.15 298.9h7.5M936.15 351.7h7.5" stroke="#111" stroke-width="2.0" fill="none"/>
<path d="M948.3 209.9V275.9M944.55 209.9h7.5M944.55 275.9h7.5" stroke="#111" stroke-width="2.0" fill="none"/>
<path d="M957.6 273.4V368M953.85 273.4h7.5M953.85 368h7.5" stroke="#111" stroke-width="2.0" fill="none"/>
<path d="M966.7 201.6V265.3M962.95 201.6h7.5M962.95 265.3h7.5" stroke="#111" stroke-width="2.0" fill="none"/>
<path d="M975 221.6V265.8M971.25 221.6h7.5M971.25 265.8h7.5" stroke="#111" stroke-width="2.0" fill="none"/>
<path d="M983.4 212.7V290.6M979.65 212.7h7.5M979.65 290.6h7.5" stroke="#111" stroke-width="2.0" fill="none"/>
<path d="M992 162.4V232.4M988.25 162.4h7.5M988.25 232.4h7.5" stroke="#111" stroke-width="2.0" fill="none"/>
<path d="M1000 102V152M996.25 102h7.5M996.25 152h7.5" stroke="#111" stroke-width="2.0" fill="none"/>
<path d="M1011.2 137.6V327M1007.45 137.6h7.5M1007.45 327h7.5" stroke="#111" stroke-width="2.0" fill="none"/>
<path d="M1026.6 166.5V256.2M1022.8499999999999 166.5h7.5M1022.8499999999999 256.2h7.5" stroke="#111" stroke-width="2.0" fill="none"/>
<path d="M1036.5 221.8V301.7M1032.75 221.8h7.5M1032.75 301.7h7.5" stroke="#111" stroke-width="2.0" fill="none"/>
<path d="M1046.3 134V215.7M1042.55 134h7.5M1042.55 215.7h7.5" stroke="#111" stroke-width="2.0" fill="none"/>
<path d="M1057.2 160.4V257.2M1053.45 160.4h7.5M1053.45 257.2h7.5" stroke="#111" stroke-width="2.0" fill="none"/>
<path d="M1066.7 118.9V169M1062.95 118.9h7.5M1062.95 169h7.5" stroke="#111" stroke-width="2.0" fill="none"/>
<path d="M1075.4 160.4V249.4M1071.65 160.4h7.5M1071.65 249.4h7.5" stroke="#111" stroke-width="2.0" fill="none"/>
<path d="M1084 146.5V195.3M1080.25 146.5h7.5M1080.25 195.3h7.5" stroke="#111" stroke-width="2.0" fill="none"/>
<path d="M1092 154.3V216M1088.25 154.3h7.5M1088.25 216h7.5" stroke="#111" stroke-width="2.0" fill="none"/>
<path d="M1101.7 143.4V201.1M1097.95 143.4h7.5M1097.95 201.1h7.5" stroke="#111" stroke-width="2.0" fill="none"/>
<path d="M1114 211.7V258.7M1110.25 211.7h7.5M1110.25 258.7h7.5" stroke="#111" stroke-width="2.0" fill="none"/>
<path d="M1121.9 196.8V310.5M1118.15 196.8h7.5M1118.15 310.5h7.5" stroke="#111" stroke-width="2.0" fill="none"/>
<path d="M1130 177.6V311.8M1126.25 177.6h7.5M1126.25 311.8h7.5" stroke="#111" stroke-width="2.0" fill="none"/>
<path d="M1138 154.3V196.8M1134.25 154.3h7.5M1134.25 196.8h7.5" stroke="#111" stroke-width="2.0" fill="none"/>
<path d="M1145.8 74V168.5M1142.05 74h7.5M1142.05 168.5h7.5" stroke="#111" stroke-width="2.0" fill="none"/>
<path d="M1154 225.3V253.9M1150.25 225.3h7.5M1150.25 253.9h7.5" stroke="#111" stroke-width="2.0" fill="none"/>
<path d="M1162 127.5V186.4M1158.25 127.5h7.5M1158.25 186.4h7.5" stroke="#111" stroke-width="2.0" fill="none"/>
<path d="M1170.2 210.7V280.2M1166.45 210.7h7.5M1166.45 280.2h7.5" stroke="#111" stroke-width="2.0" fill="none"/>
<path d="M1178.5 186.2V292.8M1174.75 186.2h7.5M1174.75 292.8h7.5" stroke="#111" stroke-width="2.0" fill="none"/>
<path d="M1187.7 117V254.4M1183.95 117h7.5M1183.95 254.4h7.5" stroke="#111" stroke-width="2.0" fill="none"/>
<path d="M1198.9 130.8V182.4M1195.15 130.8h7.5M1195.15 182.4h7.5" stroke="#111" stroke-width="2.0" fill="none"/>
<path d="M1207.4 173.5V284.2M1203.65 173.5h7.5M1203.65 284.2h7.5" stroke="#111" stroke-width="2.0" fill="none"/>
<path d="M1215 176V292M1211.25 176h7.5M1211.25 292h7.5" stroke="#111" stroke-width="2.0" fill="none"/>
<circle cx="622" cy="349.7" r="4.6" fill="#2f7f8e" stroke="#222" stroke-width="0.9"/>
<circle cx="630" cy="302" r="6.7" fill="#54c79a" stroke="#222" stroke-width="0.9"/>
<circle cx="638.2" cy="324.5" r="7.8" fill="#66cc5c" stroke="#222" stroke-width="0.9"/>
<circle cx="646.4" cy="311.8" r="8.2" fill="#7fd047" stroke="#222" stroke-width="0.9"/>
<circle cx="653.2" cy="267.6" r="9" fill="#a6d62e" stroke="#222" stroke-width="0.9"/>
<circle cx="662.1" cy="269.8" r="9.7" fill="#c1da26" stroke="#222" stroke-width="0.9"/>
<circle cx="670.4" cy="296.8" r="10.2" fill="#dade23" stroke="#222" stroke-width="0.9"/>
<circle cx="678.3" cy="278.8" r="11.4" fill="#f6e23c" stroke="#222" stroke-width="0.9"/>
<circle cx="685.8" cy="245.1" r="11" fill="#f6e23c" stroke="#222" stroke-width="0.9"/>
<circle cx="693.6" cy="236.2" r="11.5" fill="#f6e23c" stroke="#222" stroke-width="0.9"/>
<circle cx="701.8" cy="222.7" r="11" fill="#f6e23c" stroke="#222" stroke-width="0.9"/>
<circle cx="710" cy="208.7" r="11" fill="#f2e139" stroke="#222" stroke-width="0.9"/>
<circle cx="718.3" cy="233.2" r="10" fill="#ddde26" stroke="#222" stroke-width="0.9"/>
<circle cx="726.2" cy="255.6" r="10" fill="#d6dd20" stroke="#222" stroke-width="0.9"/>
<circle cx="733.7" cy="230.2" r="8.5" fill="#98d432" stroke="#222" stroke-width="0.9"/>
<circle cx="742.3" cy="230.2" r="8.5" fill="#75ce4f" stroke="#222" stroke-width="0.9"/>
<circle cx="750.5" cy="267.6" r="7.8" fill="#66cc5c" stroke="#222" stroke-width="0.9"/>
<circle cx="758.4" cy="377.2" r="6.5" fill="#54c79a" stroke="#222" stroke-width="0.9"/>
<circle cx="766.5" cy="402.1" r="6" fill="#41b795" stroke="#222" stroke-width="0.9"/>
<circle cx="774.3" cy="459.8" r="6" fill="#319f90" stroke="#222" stroke-width="0.9"/>
<circle cx="782.1" cy="521.5" r="6" fill="#319f90" stroke="#222" stroke-width="0.9"/>
<circle cx="790.4" cy="457" r="4.8" fill="#2d888e" stroke="#222" stroke-width="0.9"/>
<circle cx="799.2" cy="495.6" r="4.8" fill="#2f7f8e" stroke="#222" stroke-width="0.9"/>
<circle cx="808" cy="480.7" r="4.8" fill="#30798e" stroke="#222" stroke-width="0.9"/>
<circle cx="821.2" cy="493" r="4.3" fill="#38618f" stroke="#222" stroke-width="0.9"/>
<circle cx="836.5" cy="484" r="4.3" fill="#434d8f" stroke="#222" stroke-width="0.9"/>
<circle cx="846.4" cy="460" r="3.8" fill="#484690" stroke="#222" stroke-width="0.9"/>
<circle cx="857.4" cy="438.4" r="3.8" fill="#4e3c90" stroke="#222" stroke-width="0.9"/>
<circle cx="866.5" cy="448" r="3.8" fill="#4f368e" stroke="#222" stroke-width="0.9"/>
<circle cx="874.3" cy="304.2" r="4.3" fill="#38618f" stroke="#222" stroke-width="0.9"/>
<circle cx="882.6" cy="281.5" r="4.8" fill="#2d888e" stroke="#222" stroke-width="0.9"/>
<circle cx="890.7" cy="182.6" r="6.5" fill="#54c79a" stroke="#222" stroke-width="0.9"/>
<circle cx="902" cy="260.2" r="4.8" fill="#2f918f" stroke="#222" stroke-width="0.9"/>
<circle cx="910.8" cy="283" r="4.3" fill="#33708f" stroke="#222" stroke-width="0.9"/>
<circle cx="922.5" cy="298.2" r="4.1" fill="#38618f" stroke="#222" stroke-width="0.9"/>
<circle cx="931.3" cy="344.2" r="4.1" fill="#3a5d8f" stroke="#222" stroke-width="0.9"/>
<circle cx="939.9" cy="325.2" r="4.1" fill="#395f8f" stroke="#222" stroke-width="0.9"/>
<circle cx="948.3" cy="243" r="3.8" fill="#4f338e" stroke="#222" stroke-width="0.9"/>
<circle cx="957.6" cy="325.2" r="3.8" fill="#521e88" stroke="#222" stroke-width="0.9"/>
<circle cx="966.7" cy="233.4" r="3.8" fill="#4e398f" stroke="#222" stroke-width="0.9"/>
<circle cx="975" cy="243.8" r="3.5999999999999996" fill="#4e398f" stroke="#222" stroke-width="0.9"/>
<circle cx="983.4" cy="251.9" r="3.5999999999999996" fill="#4b4190" stroke="#222" stroke-width="0.9"/>
<circle cx="992" cy="197.5" r="4.3" fill="#434d8f" stroke="#222" stroke-width="0.9"/>
<circle cx="1000" cy="127.2" r="4.3" fill="#444a8f" stroke="#222" stroke-width="0.9"/>
<circle cx="1011.2" cy="232.2" r="4.8" fill="#38618f" stroke="#222" stroke-width="0.9"/>
<circle cx="1026.6" cy="211.4" r="3.8" fill="#4e3c90" stroke="#222" stroke-width="0.9"/>
<circle cx="1036.5" cy="261.7" r="3.5999999999999996" fill="#51248a" stroke="#222" stroke-width="0.9"/>
<circle cx="1046.3" cy="175" r="3.5999999999999996" fill="#51248a" stroke="#222" stroke-width="0.9"/>
<circle cx="1057.2" cy="208.9" r="3.5999999999999996" fill="#51248a" stroke="#222" stroke-width="0.9"/>
<circle cx="1066.7" cy="143.8" r="4.3" fill="#484690" stroke="#222" stroke-width="0.9"/>
<circle cx="1075.4" cy="205" r="3.3" fill="#4d107c" stroke="#222" stroke-width="0.9"/>
<circle cx="1084" cy="171" r="2.8" fill="#4b0876" stroke="#222" stroke-width="0.9"/>
<circle cx="1092" cy="185.2" r="3.0999999999999996" fill="#4e127e" stroke="#222" stroke-width="0.9"/>
<circle cx="1101.7" cy="172.5" r="3.8" fill="#4e398f" stroke="#222" stroke-width="0.9"/>
<circle cx="1114" cy="235.5" r="3.8" fill="#50308d" stroke="#222" stroke-width="0.9"/>
<circle cx="1121.9" cy="253.4" r="3.5999999999999996" fill="#51248a" stroke="#222" stroke-width="0.9"/>
<circle cx="1130" cy="244.8" r="3.5999999999999996" fill="#502a8b" stroke="#222" stroke-width="0.9"/>
<circle cx="1138" cy="175.5" r="4.1" fill="#494390" stroke="#222" stroke-width="0.9"/>
<circle cx="1145.8" cy="121" r="4.3" fill="#464890" stroke="#222" stroke-width="0.9"/>
<circle cx="1154" cy="239.8" r="2.8" fill="#4b0876" stroke="#222" stroke-width="0.9"/>
<circle cx="1162" cy="157.4" r="2.8" fill="#4b0876" stroke="#222" stroke-width="0.9"/>
<circle cx="1170.2" cy="245" r="2.8" fill="#4c0b78" stroke="#222" stroke-width="0.9"/>
<circle cx="1178.5" cy="239.5" r="3.5999999999999996" fill="#502a8b" stroke="#222" stroke-width="0.9"/>
<circle cx="1187.7" cy="185.6" r="3.8" fill="#4f338e" stroke="#222" stroke-width="0.9"/>
<circle cx="1198.9" cy="156.7" r="4.1" fill="#484690" stroke="#222" stroke-width="0.9"/>
<circle cx="1207.4" cy="228.9" r="4.1" fill="#484690" stroke="#222" stroke-width="0.9"/>
<circle cx="1215" cy="285.3" r="4.1" fill="#484690" stroke="#222" stroke-width="0.9"/>
</g>
<path d="M754.2 933.9V1028M750.45 933.9h7.5M750.45 1028h7.5" stroke="#111" stroke-width="2.0" fill="none"/>
<path d="M777.6 888V922.8M773.85 888h7.5M773.85 922.8h7.5" stroke="#111" stroke-width="2.0" fill="none"/>
<path d="M800.7 910.4V971M796.95 910.4h7.5M796.95 971h7.5" stroke="#111" stroke-width="2.0" fill="none"/>
<path d="M823.9 882.2V958.8M820.15 882.2h7.5M820.15 958.8h7.5" stroke="#111" stroke-width="2.0" fill="none"/>
<path d="M846.7 838V865.3M842.95 838h7.5M842.95 865.3h7.5" stroke="#111" stroke-width="2.0" fill="none"/>
<path d="M870 828.7V881.4M866.25 828.7h7.5M866.25 881.4h7.5" stroke="#111" stroke-width="2.0" fill="none"/>
<path d="M892.8 878.2V916M889.05 878.2h7.5M889.05 916h7.5" stroke="#111" stroke-width="2.0" fill="none"/>
<path d="M916.3 827V911.5M912.55 827h7.5M912.55 911.5h7.5" stroke="#111" stroke-width="2.0" fill="none"/>
<path d="M939 790.4V841.2M935.25 790.4h7.5M935.25 841.2h7.5" stroke="#111" stroke-width="2.0" fill="none"/>
<path d="M962.3 785V817.7M958.55 785h7.5M958.55 817.7h7.5" stroke="#111" stroke-width="2.0" fill="none"/>
<path d="M985.3 765.8V795M981.55 765.8h7.5M981.55 795h7.5" stroke="#111" stroke-width="2.0" fill="none"/>
<path d="M1008.4 739V775M1004.65 739h7.5M1004.65 775h7.5" stroke="#111" stroke-width="2.0" fill="none"/>
<path d="M1031.4 776.5V817.2M1027.65 776.5h7.5M1027.65 817.2h7.5" stroke="#111" stroke-width="2.0" fill="none"/>
<circle cx="754.2" cy="981.1" r="5.3" fill="#2e828e" stroke="#222" stroke-width="0.9"/>
<circle cx="777.6" cy="905.4" r="6.5" fill="#54c79a" stroke="#222" stroke-width="0.9"/>
<circle cx="800.7" cy="940.7" r="8" fill="#66cc5c" stroke="#222" stroke-width="0.9"/>
<circle cx="823.9" cy="920.8" r="8.5" fill="#7acf4b" stroke="#222" stroke-width="0.9"/>
<circle cx="846.7" cy="852" r="9" fill="#9fd530" stroke="#222" stroke-width="0.9"/>
<circle cx="870" cy="854.6" r="9.5" fill="#c1da26" stroke="#222" stroke-width="0.9"/>
<circle cx="892.8" cy="897.5" r="10.5" fill="#dade23" stroke="#222" stroke-width="0.9"/>
<circle cx="916.3" cy="869.4" r="11.5" fill="#f6e23c" stroke="#222" stroke-width="0.9"/>
<circle cx="939" cy="815.8" r="11" fill="#f6e23c" stroke="#222" stroke-width="0.9"/>
<circle cx="962.3" cy="801.6" r="11" fill="#f6e23c" stroke="#222" stroke-width="0.9"/>
<circle cx="985.3" cy="780.2" r="11" fill="#f6e23c" stroke="#222" stroke-width="0.9"/>
<circle cx="1008.4" cy="758.8" r="11" fill="#f2e139" stroke="#222" stroke-width="0.9"/>
<circle cx="1031.4" cy="797.1" r="10" fill="#ddde26" stroke="#222" stroke-width="0.9"/>
<path d="M264.3 739.5V775M260.55 739.5h7.5M260.55 775h7.5" stroke="#111" stroke-width="2.0" fill="none"/>
<path d="M273.4 768V795M269.65 768h7.5M269.65 795h7.5" stroke="#111" stroke-width="2.0" fill="none"/>
<path d="M261.2 780H286.5M261.2 776.25v7.5M286.5 776.25v7.5" stroke="#111" stroke-width="2.0" fill="none"/>
<path d="M293.4 785.3V817.6M289.65 785.3h7.5M289.65 817.6h7.5" stroke="#111" stroke-width="2.0" fill="none"/>
<path d="M271.7 790V815M267.95 790h7.5M267.95 815h7.5" stroke="#111" stroke-width="2.0" fill="none"/>
<path d="M260.7 790.6V840.8M256.95 790.6h7.5M256.95 840.8h7.5" stroke="#111" stroke-width="2.0" fill="none"/>
<path d="M256.9 828V879.9M253.14999999999998 828h7.5M253.14999999999998 879.9h7.5" stroke="#111" stroke-width="2.0" fill="none"/>
<path d="M275.3 838.7V865M271.55 838.7h7.5M271.55 865h7.5" stroke="#111" stroke-width="2.0" fill="none"/>
<path d="M289.2 827.5V910M285.45 827.5h7.5M285.45 910h7.5" stroke="#111" stroke-width="2.0" fill="none"/>
<path d="M256.9 880.9V916.2M253.14999999999998 880.9h7.5M253.14999999999998 916.2h7.5" stroke="#111" stroke-width="2.0" fill="none"/>
<path d="M243.6 897.4H270.2M243.6 893.65v7.5M270.2 893.65v7.5" stroke="#111" stroke-width="2.0" fill="none"/>
<path d="M293.4 888.3V918.9M289.65 888.3h7.5M289.65 918.9h7.5" stroke="#111" stroke-width="2.0" fill="none"/>
<path d="M288.5 905.6H299M288.5 901.85v7.5M299 901.85v7.5" stroke="#111" stroke-width="2.0" fill="none"/>
<path d="M302.7 882.4V959M298.95 882.4h7.5M298.95 959h7.5" stroke="#111" stroke-width="2.0" fill="none"/>
<path d="M288.6 921H316.7M288.6 917.25v7.5M316.7 917.25v7.5" stroke="#111" stroke-width="2.0" fill="none"/>
<path d="M277.4 910.5V971.2M273.65 910.5h7.5M273.65 971.2h7.5" stroke="#111" stroke-width="2.0" fill="none"/>
<path d="M267.5 941H288M267.5 937.25v7.5M288 937.25v7.5" stroke="#111" stroke-width="2.0" fill="none"/>
<path d="M311.2 934.1V1028.2M307.45 934.1h7.5M307.45 1028.2h7.5" stroke="#111" stroke-width="2.0" fill="none"/>
<path d="M291.8 980.7H331.2M291.8 976.95v7.5M331.2 976.95v7.5" stroke="#111" stroke-width="2.0" fill="none"/>
<path d="M257.6 828V840.8M253.8 840.8h7.6" stroke="#111" stroke-width="2"/>
<circle cx="264.3" cy="758.9" r="11" fill="#f2e139" stroke="#222" stroke-width="0.9"/>
<circle cx="273.4" cy="780" r="11" fill="#f6e23c" stroke="#222" stroke-width="0.9"/>
<circle cx="293.4" cy="801.3" r="11.5" fill="#f6e23c" stroke="#222" stroke-width="0.9"/>
<circle cx="271.7" cy="797.1" r="10.5" fill="#ddde26" stroke="#222" stroke-width="0.9"/>
<circle cx="260.7" cy="815.9" r="11.5" fill="#f6e23c" stroke="#222" stroke-width="0.9"/>
<circle cx="256.9" cy="854.9" r="10" fill="#c1da26" stroke="#222" stroke-width="0.9"/>
<circle cx="275.3" cy="852" r="9" fill="#9fd530" stroke="#222" stroke-width="0.9"/>
<circle cx="289.2" cy="869.3" r="11.5" fill="#f6e23c" stroke="#222" stroke-width="0.9"/>
<circle cx="256.9" cy="897.4" r="10.5" fill="#dade23" stroke="#222" stroke-width="0.9"/>
<circle cx="293.4" cy="905.6" r="6.8" fill="#54c79a" stroke="#222" stroke-width="0.9"/>
<circle cx="302.7" cy="921" r="8.5" fill="#7fd047" stroke="#222" stroke-width="0.9"/>
<circle cx="277.4" cy="941" r="8.3" fill="#66cc5c" stroke="#222" stroke-width="0.9"/>
<circle cx="311.2" cy="980.7" r="5.3" fill="#2e828e" stroke="#222" stroke-width="0.9"/>
<g clip-path="url(#ca)">
<path d="M191.2 118.9V168.8M187.7 118.9h7M187.7 168.8h7" stroke="#111" stroke-width="2.0" fill="none"/>
<path d="M172.5 143.9H209.1M172.5 140.4v7M209.1 140.4v7" stroke="#111" stroke-width="2.0" fill="none"/>
<path d="M207.7 130.9V182.7M204.2 130.9h7M204.2 182.7h7" stroke="#111" stroke-width="2.0" fill="none"/>
<path d="M196.6 156.8H218.4M196.6 153.3v7M218.4 153.3v7" stroke="#111" stroke-width="2.0" fill="none"/>
<path d="M243.7 101.9V151.9M240.2 101.9h7M240.2 151.9h7" stroke="#111" stroke-width="2.0" fill="none"/>
<path d="M236.3 126.9H250.5M236.3 123.4v7M250.5 123.4v7" stroke="#111" stroke-width="2.0" fill="none"/>
<path d="M259.3 73.6V168.4M255.8 73.6h7M255.8 168.4h7" stroke="#111" stroke-width="2.0" fill="none"/>
<path d="M247.9 120.9H271.5M247.9 117.4v7M271.5 117.4v7" stroke="#111" stroke-width="2.0" fill="none"/>
<path d="M220 146.4V195.8M216.5 146.4h7M216.5 195.8h7" stroke="#111" stroke-width="2.0" fill="none"/>
<path d="M203.7 171.1H233.6M203.7 167.6v7M233.6 167.6v7" stroke="#111" stroke-width="2.0" fill="none"/>
<path d="M240.7 117V200M237.2 117h7M237.2 200h7" stroke="#111" stroke-width="2.0" fill="none"/>
<path d="M224 172.4H262M224 168.9v7M262 168.9v7" stroke="#111" stroke-width="2.0" fill="none"/>
<path d="M257.3 156.5V196.6M253.8 156.5h7M253.8 196.6h7" stroke="#111" stroke-width="2.0" fill="none"/>
<path d="M232 175.5H276M232 172.0v7M276 172.0v7" stroke="#111" stroke-width="2.0" fill="none"/>
<path d="M276.4 127.8V168.7M272.9 127.8h7M272.9 168.7h7" stroke="#111" stroke-width="2.0" fill="none"/>
<path d="M253.9 157.3H293M253.9 153.8v7M293 153.8v7" stroke="#111" stroke-width="2.0" fill="none"/>
<path d="M294 134.3V262M290.5 134.3h7M290.5 262h7" stroke="#111" stroke-width="2.0" fill="none"/>
<path d="M265 174.9H323.5M265 171.4v7M323.5 171.4v7" stroke="#111" stroke-width="2.0" fill="none"/>
<path d="M216.4 160V210M212.9 160h7M212.9 210h7" stroke="#111" stroke-width="2.0" fill="none"/>
<path d="M196.3 185.3H225.4M196.3 181.8v7M225.4 181.8v7" stroke="#111" stroke-width="2.0" fill="none"/>
<path d="M243.7 172V194M240.2 172h7M240.2 194h7" stroke="#111" stroke-width="2.0" fill="none"/>
<path d="M236 182.7H252M236 179.2v7M252 179.2v7" stroke="#111" stroke-width="2.0" fill="none"/>
<path d="M241.3 170V215M237.8 170h7M237.8 215h7" stroke="#111" stroke-width="2.0" fill="none"/>
<path d="M230 185.6H250M230 182.1v7M250 182.1v7" stroke="#111" stroke-width="2.0" fill="none"/>
<path d="M239 190V222M235.5 190h7M235.5 222h7" stroke="#111" stroke-width="2.0" fill="none"/>
<path d="M197.6 205.2H262M197.6 201.7v7M262 201.7v7" stroke="#111" stroke-width="2.0" fill="none"/>
<path d="M283.3 160V240M279.8 160h7M279.8 240h7" stroke="#111" stroke-width="2.0" fill="none"/>
<path d="M264.5 197.5H302.2M264.5 194.0v7M302.2 194.0v7" stroke="#111" stroke-width="2.0" fill="none"/>
<path d="M280.4 175V250M276.9 175h7M276.9 250h7" stroke="#111" stroke-width="2.0" fill="none"/>
<path d="M250 208.8H323.5M250 205.3v7M323.5 205.3v7" stroke="#111" stroke-width="2.0" fill="none"/>
<path d="M278 182V255M274.5 182h7M274.5 255h7" stroke="#111" stroke-width="2.0" fill="none"/>
<path d="M245 211.7H310M245 208.2v7M310 208.2v7" stroke="#111" stroke-width="2.0" fill="none"/>
<path d="M277.1 205V262M273.6 205h7M273.6 262h7" stroke="#111" stroke-width="2.0" fill="none"/>
<path d="M258 233.4H300M258 229.9v7M300 229.9v7" stroke="#111" stroke-width="2.0" fill="none"/>
<path d="M285.3 161V270M281.8 161h7M281.8 270h7" stroke="#111" stroke-width="2.0" fill="none"/>
<path d="M260.6 232.2H332.6M260.6 228.7v7M332.6 228.7v7" stroke="#111" stroke-width="2.0" fill="none"/>
<path d="M293.7 215V268M290.2 215h7M290.2 268h7" stroke="#111" stroke-width="2.0" fill="none"/>
<path d="M270 235.4H318M270 231.9v7M318 231.9v7" stroke="#111" stroke-width="2.0" fill="none"/>
<path d="M300 215V270M296.5 215h7M296.5 270h7" stroke="#111" stroke-width="2.0" fill="none"/>
<path d="M280 240H330M280 236.5v7M330 236.5v7" stroke="#111" stroke-width="2.0" fill="none"/>
<path d="M312.8 186V275M309.3 186h7M309.3 275h7" stroke="#111" stroke-width="2.0" fill="none"/>
<path d="M290 239.5H369.4M290 236.0v7M369.4 236.0v7" stroke="#111" stroke-width="2.0" fill="none"/>
<path d="M281 220V268M277.5 220h7M277.5 268h7" stroke="#111" stroke-width="2.0" fill="none"/>
<path d="M262 242.8H300M262 239.3v7M300 239.3v7" stroke="#111" stroke-width="2.0" fill="none"/>
<path d="M292.8 215V282M289.3 215h7M289.3 282h7" stroke="#111" stroke-width="2.0" fill="none"/>
<path d="M266 243.6H330.2M266 240.1v7M330.2 240.1v7" stroke="#111" stroke-width="2.0" fill="none"/>
<path d="M305.6 177.8V280M302.1 177.8h7M302.1 280h7" stroke="#111" stroke-width="2.0" fill="none"/>
<path d="M285 244.8H326M285 241.3v7M326 241.3v7" stroke="#111" stroke-width="2.0" fill="none"/>
<path d="M310.2 213V285M306.7 213h7M306.7 285h7" stroke="#111" stroke-width="2.0" fill="none"/>
<path d="M290 245.2H335M290 241.7v7M335 241.7v7" stroke="#111" stroke-width="2.0" fill="none"/>
<path d="M316.5 213V290M313.0 213h7M313.0 290h7" stroke="#111" stroke-width="2.0" fill="none"/>
<path d="M296 252.0H338.4M296 248.5v7M338.4 248.5v7" stroke="#111" stroke-width="2.0" fill="none"/>
<path d="M271.3 198V300M267.8 198h7M267.8 300h7" stroke="#111" stroke-width="2.0" fill="none"/>
<path d="M250 253.5H290M250 250.0v7M290 250.0v7" stroke="#111" stroke-width="2.0" fill="none"/>
<path d="M292.3 232V290M288.8 232h7M288.8 290h7" stroke="#111" stroke-width="2.0" fill="none"/>
<path d="M262 260.2H318M262 256.7v7M318 256.7v7" stroke="#111" stroke-width="2.0" fill="none"/>
<path d="M289.3 240V285M285.8 240h7M285.8 285h7" stroke="#111" stroke-width="2.0" fill="none"/>
<path d="M270 261.7H308M270 258.2v7M308 258.2v7" stroke="#111" stroke-width="2.0" fill="none"/>
<path d="M284.1 234V322M280.6 234h7M280.6 322h7" stroke="#111" stroke-width="2.0" fill="none"/>
<path d="M257 283.3H302M257 279.8v7M302 279.8v7" stroke="#111" stroke-width="2.0" fill="none"/>
<path d="M302.8 274.3V354.6M299.3 274.3h7M299.3 354.6h7" stroke="#111" stroke-width="2.0" fill="none"/>
<path d="M263 285.2H349.5M263 281.7v7M349.5 281.7v7" stroke="#111" stroke-width="2.0" fill="none"/>
<path d="M267.0 265.4V343.5M263.5 265.4h7M263.5 343.5h7" stroke="#111" stroke-width="2.0" fill="none"/>
<path d="M260 304.1H275M260 300.6v7M275 300.6v7" stroke="#111" stroke-width="2.0" fill="none"/>
<path d="M295.7 262V348M292.2 262h7M292.2 348h7" stroke="#111" stroke-width="2.0" fill="none"/>
<path d="M267.7 298.1H324.2M267.7 294.6v7M324.2 294.6v7" stroke="#111" stroke-width="2.0" fill="none"/>
<path d="M283.8 275.8V351.7M280.3 275.8h7M280.3 351.7h7" stroke="#111" stroke-width="2.0" fill="none"/>
<path d="M263.3 325.4H300M263.3 321.9v7M300 321.9v7" stroke="#111" stroke-width="2.0" fill="none"/>
<path d="M308.3 272.9V377.7M304.8 272.9h7M304.8 377.7h7" stroke="#111" stroke-width="2.0" fill="none"/>
<path d="M290 325.4H333.2M290 321.9v7M333.2 321.9v7" stroke="#111" stroke-width="2.0" fill="none"/>
<path d="M333.6 237V451.4M330.1 237h7M330.1 451.4h7" stroke="#111" stroke-width="2.0" fill="none"/>
<path d="M310.9 343.5H356.5M310.9 340.0v7M356.5 340.0v7" stroke="#111" stroke-width="2.0" fill="none"/>
<path d="M256.6 265V300M253.10000000000002 265h7M253.10000000000002 300h7" stroke="#111" stroke-width="2.0" fill="none"/>
<path d="M250 281.8H268M250 278.3v7M268 278.3v7" stroke="#111" stroke-width="2.0" fill="none"/>
<path d="M259.9 330V368M256.4 330h7M256.4 368h7" stroke="#111" stroke-width="2.0" fill="none"/>
<path d="M246.2 349.4H273.7M246.2 345.9v7M273.7 345.9v7" stroke="#111" stroke-width="2.0" fill="none"/>
<path d="M251.4 326.4V400M247.9 326.4h7M247.9 400h7" stroke="#111" stroke-width="2.0" fill="none"/>
<path d="M232 376.7H270M232 373.2v7M270 373.2v7" stroke="#111" stroke-width="2.0" fill="none"/>
<path d="M243.1 368.8V435.3M239.6 368.8h7M239.6 435.3h7" stroke="#111" stroke-width="2.0" fill="none"/>
<path d="M233.7 402.3H254.2M233.7 398.8v7M254.2 398.8v7" stroke="#111" stroke-width="2.0" fill="none"/>
<path d="M268.5 364.3V512.4M265.0 364.3h7M265.0 512.4h7" stroke="#111" stroke-width="2.0" fill="none"/>
<path d="M256 438.5H281.9M256 435.0v7M281.9 435.0v7" stroke="#111" stroke-width="2.0" fill="none"/>
<path d="M281.5 366.5V529M278.0 366.5h7M278.0 529h7" stroke="#111" stroke-width="2.0" fill="none"/>
<path d="M257.8 447.8H306.8M257.8 444.3v7M306.8 444.3v7" stroke="#111" stroke-width="2.0" fill="none"/>
<path d="M250.6 401.4V520M247.1 401.4h7M247.1 520h7" stroke="#111" stroke-width="2.0" fill="none"/>
<path d="M239 460.3H273M239 456.8v7M273 456.8v7" stroke="#111" stroke-width="2.0" fill="none"/>
<path d="M255.1 406.8V507.6M251.6 406.8h7M251.6 507.6h7" stroke="#111" stroke-width="2.0" fill="none"/>
<path d="M241 456.7H270M241 453.2v7M270 453.2v7" stroke="#111" stroke-width="2.0" fill="none"/>
<path d="M258.1 403.2V517.4M254.60000000000002 403.2h7M254.60000000000002 517.4h7" stroke="#111" stroke-width="2.0" fill="none"/>
<path d="M245 460.7H273M245 457.2v7M273 457.2v7" stroke="#111" stroke-width="2.0" fill="none"/>
<path d="M296.7 458V504.4M293.2 458h7M293.2 504.4h7" stroke="#111" stroke-width="2.0" fill="none"/>
<path d="M280 481.2H315M280 477.7v7M315 477.7v7" stroke="#111" stroke-width="2.0" fill="none"/>
<path d="M307.7 399.3V568.3M304.2 399.3h7M304.2 568.3h7" stroke="#111" stroke-width="2.0" fill="none"/>
<path d="M268.8 484.0H346.6M268.8 480.5v7M346.6 480.5v7" stroke="#111" stroke-width="2.0" fill="none"/>
<path d="M289.2 442.8V548.6M285.7 442.8h7M285.7 548.6h7" stroke="#111" stroke-width="2.0" fill="none"/>
<path d="M264 496.0H300M264 492.5v7M300 492.5v7" stroke="#111" stroke-width="2.0" fill="none"/>
<path d="M314.5 410.7V576M311.0 410.7h7M311.0 576h7" stroke="#111" stroke-width="2.0" fill="none"/>
<path d="M290 493.3H340.2M290 489.8v7M340.2 489.8v7" stroke="#111" stroke-width="2.0" fill="none"/>
<path d="M273.5 488V555.8M270.0 488h7M270.0 555.8h7" stroke="#111" stroke-width="2.0" fill="none"/>
<path d="M259.6 521.5H287.7M259.6 518.0v7M287.7 518.0v7" stroke="#111" stroke-width="2.0" fill="none"/>
<path d="M223.0 234V257M219.5 234h7M219.5 257h7" stroke="#111" stroke-width="2.0" fill="none"/>
<path d="M216 245.2H231M216 241.7v7M231 241.7v7" stroke="#111" stroke-width="2.0" fill="none"/>
<path d="M233.7 210V232M230.2 210h7M230.2 232h7" stroke="#111" stroke-width="2.0" fill="none"/>
<path d="M226 220.6H241M226 217.1v7M241 217.1v7" stroke="#111" stroke-width="2.0" fill="none"/>
<path d="M231.7 223V245M228.2 223h7M228.2 245h7" stroke="#111" stroke-width="2.0" fill="none"/>
<path d="M224 232.9H240M224 229.4v7M240 229.4v7" stroke="#111" stroke-width="2.0" fill="none"/>
<path d="M227.1 198V220M223.6 198h7M223.6 220h7" stroke="#111" stroke-width="2.0" fill="none"/>
<path d="M218 208.9H236M218 205.4v7M236 205.4v7" stroke="#111" stroke-width="2.0" fill="none"/>
<path d="M230.6 220V240M227.1 220h7M227.1 240h7" stroke="#111" stroke-width="2.0" fill="none"/>
<path d="M224 229.8H238M224 226.3v7M238 226.3v7" stroke="#111" stroke-width="2.0" fill="none"/>
<path d="M248.5 228V249M245.0 228h7M245.0 249h7" stroke="#111" stroke-width="2.0" fill="none"/>
<path d="M240 240.0H255M240 236.5v7M255 236.5v7" stroke="#111" stroke-width="2.0" fill="none"/>
<path d="M251.9 220V240M248.4 220h7M248.4 240h7" stroke="#111" stroke-width="2.0" fill="none"/>
<path d="M244 229.8H259M244 226.3v7M259 226.3v7" stroke="#111" stroke-width="2.0" fill="none"/>
<path d="M221.5 258V281M218.0 258h7M218.0 281h7" stroke="#111" stroke-width="2.0" fill="none"/>
<path d="M214 269.7H228M214 266.2v7M228 266.2v7" stroke="#111" stroke-width="2.0" fill="none"/>
<path d="M236.8 244V266M233.3 244h7M233.3 266h7" stroke="#111" stroke-width="2.0" fill="none"/>
<path d="M229 254.4H244M229 250.9v7M244 250.9v7" stroke="#111" stroke-width="2.0" fill="none"/>
<path d="M243.9 268V290M240.4 268h7M240.4 290h7" stroke="#111" stroke-width="2.0" fill="none"/>
<path d="M236 278.9H252M236 275.4v7M252 275.4v7" stroke="#111" stroke-width="2.0" fill="none"/>
<path d="M234.2 258V277M230.7 258h7M230.7 277h7" stroke="#111" stroke-width="2.0" fill="none"/>
<path d="M228 267.6H242M228 264.1v7M242 264.1v7" stroke="#111" stroke-width="2.0" fill="none"/>
<path d="M221.5 285.5V308.5M218.0 285.5h7M218.0 308.5h7" stroke="#111" stroke-width="2.0" fill="none"/>
<path d="M214 296.7H230M214 293.2v7M230 293.2v7" stroke="#111" stroke-width="2.0" fill="none"/>
<path d="M247.2 293V312M243.7 293h7M243.7 312h7" stroke="#111" stroke-width="2.0" fill="none"/>
<path d="M240 301.9H256M240 298.4v7M256 298.4v7" stroke="#111" stroke-width="2.0" fill="none"/>
<path d="M253.6 300V326M250.1 300h7M250.1 326h7" stroke="#111" stroke-width="2.0" fill="none"/>
<path d="M246 311.6H262M246 308.1v7M262 308.1v7" stroke="#111" stroke-width="2.0" fill="none"/>
<path d="M236.3 305.6V343.5M232.8 305.6h7M232.8 343.5h7" stroke="#111" stroke-width="2.0" fill="none"/>
<path d="M230 324.3H243M230 320.8v7M243 320.8v7" stroke="#111" stroke-width="2.0" fill="none"/>
<circle cx="191.2" cy="143.9" r="3.6" fill="#434d8f" stroke="#222" stroke-width="0.9"/>
<circle cx="207.7" cy="156.8" r="3.6" fill="#434d8f" stroke="#222" stroke-width="0.9"/>
<circle cx="243.7" cy="126.9" r="3.6" fill="#434d8f" stroke="#222" stroke-width="0.9"/>
<circle cx="259.3" cy="120.9" r="3.6" fill="#434d8f" stroke="#222" stroke-width="0.9"/>
<circle cx="220" cy="171.1" r="3.0" fill="#4c0b78" stroke="#222" stroke-width="0.9"/>
<circle cx="240.7" cy="172.4" r="3.2" fill="#502d8c" stroke="#222" stroke-width="0.9"/>
<circle cx="257.3" cy="175.5" r="3.3" fill="#4f368e" stroke="#222" stroke-width="0.9"/>
<circle cx="276.4" cy="157.3" r="2.9" fill="#4c0d7a" stroke="#222" stroke-width="0.9"/>
<circle cx="294" cy="174.9" r="3.2" fill="#51278a" stroke="#222" stroke-width="0.9"/>
<circle cx="216.4" cy="185.3" r="3.0" fill="#521e88" stroke="#222" stroke-width="0.9"/>
<circle cx="243.7" cy="182.7" r="6.2" fill="#4dc199" stroke="#222" stroke-width="0.9"/>
<circle cx="241.3" cy="185.6" r="3.0" fill="#4f368e" stroke="#222" stroke-width="0.9"/>
<circle cx="239" cy="205.2" r="2.8" fill="#4e127e" stroke="#222" stroke-width="0.9"/>
<circle cx="283.3" cy="197.5" r="3.6" fill="#434d8f" stroke="#222" stroke-width="0.9"/>
<circle cx="280.4" cy="208.8" r="3.0" fill="#51278a" stroke="#222" stroke-width="0.9"/>
<circle cx="278" cy="211.7" r="3.0" fill="#4f338e" stroke="#222" stroke-width="0.9"/>
<circle cx="277.1" cy="233.4" r="3.0" fill="#4f368e" stroke="#222" stroke-width="0.9"/>
<circle cx="285.3" cy="232.2" r="3.8" fill="#38618f" stroke="#222" stroke-width="0.9"/>
<circle cx="293.7" cy="235.4" r="3.0" fill="#4f368e" stroke="#222" stroke-width="0.9"/>
<circle cx="300" cy="240" r="2.8" fill="#4e127e" stroke="#222" stroke-width="0.9"/>
<circle cx="312.8" cy="239.5" r="3.0" fill="#51278a" stroke="#222" stroke-width="0.9"/>
<circle cx="281" cy="242.8" r="3.0" fill="#4e3c90" stroke="#222" stroke-width="0.9"/>
<circle cx="292.8" cy="243.6" r="3.3" fill="#4e3c90" stroke="#222" stroke-width="0.9"/>
<circle cx="305.6" cy="244.8" r="3.0" fill="#51278a" stroke="#222" stroke-width="0.9"/>
<circle cx="310.2" cy="245.2" r="2.8" fill="#4d107c" stroke="#222" stroke-width="0.9"/>
<circle cx="316.5" cy="252.0" r="3.5" fill="#464890" stroke="#222" stroke-width="0.9"/>
<circle cx="271.3" cy="253.5" r="3.0" fill="#502a8b" stroke="#222" stroke-width="0.9"/>
<circle cx="292.3" cy="260.2" r="5.0" fill="#2d888e" stroke="#222" stroke-width="0.9"/>
<circle cx="289.3" cy="261.7" r="3.0" fill="#51278a" stroke="#222" stroke-width="0.9"/>
<circle cx="284.1" cy="283.3" r="4.5" fill="#33708f" stroke="#222" stroke-width="0.9"/>
<circle cx="302.8" cy="285.2" r="3.3" fill="#4f368e" stroke="#222" stroke-width="0.9"/>
<circle cx="267.0" cy="304.1" r="4.0" fill="#38618f" stroke="#222" stroke-width="0.9"/>
<circle cx="295.7" cy="298.1" r="4.3" fill="#346a8f" stroke="#222" stroke-width="0.9"/>
<circle cx="283.8" cy="325.4" r="4.0" fill="#3a5d8f" stroke="#222" stroke-width="0.9"/>
<circle cx="308.3" cy="325.4" r="3.3" fill="#4f368e" stroke="#222" stroke-width="0.9"/>
<circle cx="333.6" cy="343.5" r="4.0" fill="#395f8f" stroke="#222" stroke-width="0.9"/>
<circle cx="256.6" cy="281.8" r="5.3" fill="#2e828e" stroke="#222" stroke-width="0.9"/>
<circle cx="259.9" cy="349.4" r="5.3" fill="#2e828e" stroke="#222" stroke-width="0.9"/>
<circle cx="251.4" cy="376.7" r="6.5" fill="#4dc199" stroke="#222" stroke-width="0.9"/>
<circle cx="243.1" cy="402.3" r="6.0" fill="#41b795" stroke="#222" stroke-width="0.9"/>
<circle cx="268.5" cy="438.5" r="3.8" fill="#464890" stroke="#222" stroke-width="0.9"/>
<circle cx="281.5" cy="447.8" r="3.8" fill="#444a8f" stroke="#222" stroke-width="0.9"/>
<circle cx="250.6" cy="460.3" r="5.5" fill="#34ac92" stroke="#222" stroke-width="0.9"/>
<circle cx="255.1" cy="456.7" r="5.0" fill="#2d888e" stroke="#222" stroke-width="0.9"/>
<circle cx="258.1" cy="460.7" r="3.5" fill="#464890" stroke="#222" stroke-width="0.9"/>
<circle cx="296.7" cy="481.2" r="5.0" fill="#30798e" stroke="#222" stroke-width="0.9"/>
<circle cx="307.7" cy="484.0" r="3.8" fill="#434d8f" stroke="#222" stroke-width="0.9"/>
<circle cx="289.2" cy="496.0" r="5.0" fill="#2e828e" stroke="#222" stroke-width="0.9"/>
<circle cx="314.5" cy="493.3" r="4.5" fill="#36668f" stroke="#222" stroke-width="0.9"/>
<circle cx="273.5" cy="521.5" r="5.5" fill="#309690" stroke="#222" stroke-width="0.9"/>
<circle cx="247.2" cy="301.9" r="6.5" fill="#54c79a" stroke="#222" stroke-width="0.9"/>
<circle cx="223.0" cy="245.2" r="11.0" fill="#f6e23c" stroke="#222" stroke-width="0.9"/>
<circle cx="233.7" cy="220.6" r="10.7" fill="#f6e23c" stroke="#222" stroke-width="0.9"/>
<circle cx="231.7" cy="232.9" r="10.5" fill="#ddde26" stroke="#222" stroke-width="0.9"/>
<circle cx="227.1" cy="208.9" r="10.7" fill="#f6e23c" stroke="#222" stroke-width="0.9"/>
<circle cx="230.6" cy="229.8" r="8.2" fill="#7dd049" stroke="#222" stroke-width="0.9"/>
<circle cx="248.5" cy="240.0" r="9.5" fill="#f6e23c" stroke="#222" stroke-width="0.9"/>
<circle cx="251.9" cy="229.8" r="9.0" fill="#9fd530" stroke="#222" stroke-width="0.9"/>
<circle cx="221.5" cy="269.7" r="9.5" fill="#bad928" stroke="#222" stroke-width="0.9"/>
<circle cx="236.8" cy="254.4" r="10.0" fill="#cfdc22" stroke="#222" stroke-width="0.9"/>
<circle cx="243.9" cy="278.9" r="11.0" fill="#f6e23c" stroke="#222" stroke-width="0.9"/>
<circle cx="234.2" cy="267.6" r="7.5" fill="#64cc64" stroke="#222" stroke-width="0.9"/>
<circle cx="221.5" cy="296.7" r="10.2" fill="#dade23" stroke="#222" stroke-width="0.9"/>
<circle cx="253.6" cy="311.6" r="8.3" fill="#7dd049" stroke="#222" stroke-width="0.9"/>
<circle cx="236.3" cy="324.3" r="8.0" fill="#66cc5c" stroke="#222" stroke-width="0.9"/>
<circle cx="250.6" cy="228.8" r="3.5" fill="#464890" stroke="#222" stroke-width="0.9"/>
<circle cx="239.3" cy="205.3" r="3.0" fill="#4e127e" stroke="#222" stroke-width="0.9"/>
<circle cx="241.3" cy="185.6" r="3.0" fill="#4f368e" stroke="#222" stroke-width="0.9"/>
<circle cx="256.7" cy="281.4" r="5.3" fill="#2e828e" stroke="#222" stroke-width="0.9"/>
<circle cx="266.9" cy="304.4" r="4.0" fill="#38618f" stroke="#222" stroke-width="0.9"/>
</g>
<line x1="728.4" y1="1140.5" x2="728.4" y2="686.5" stroke="#111" stroke-width="3.6" stroke-dasharray="11 11.8"/>
<line x1="728.4" y1="1364.5" x2="728.4" y2="1203.5" stroke="#111" stroke-width="3.6" stroke-dasharray="11 11.8"/>
<line x1="778.8" y1="1140.5" x2="778.8" y2="686.5" stroke="#111" stroke-width="3.6" stroke-dasharray="11 11.8"/>
<line x1="778.8" y1="1364.5" x2="778.8" y2="1203.5" stroke="#111" stroke-width="3.6" stroke-dasharray="11 11.8"/>
<text x="0" y="31.4" font-size="40" text-anchor="start" font-weight="bold" fill="#000" >a</text>
<text x="434" y="30" font-size="40" text-anchor="start" font-weight="bold" fill="#000" >b</text>
<text x="1" y="726" font-size="40" text-anchor="start" font-weight="bold" fill="#000" >c</text>
<text x="434" y="727.6" font-size="40" text-anchor="start" font-weight="bold" fill="#000" >d</text>
<text x="458" y="1187.6" font-size="40" text-anchor="start" font-weight="bold" fill="#000" >e</text>
<text x="123" y="77.0" font-size="33" text-anchor="end" font-weight="normal" fill="#000" >24.5</text>
<text x="123" y="197.2" font-size="33" text-anchor="end" font-weight="normal" fill="#000" >24.0</text>
<text x="123" y="317.4" font-size="33" text-anchor="end" font-weight="normal" fill="#000" >23.5</text>
<text x="123" y="437.6" font-size="33" text-anchor="end" font-weight="normal" fill="#000" >23.0</text>
<text x="123" y="557.9" font-size="33" text-anchor="end" font-weight="normal" fill="#000" >22.5</text>
<text x="189.7" y="658.3" font-size="33" text-anchor="middle" font-weight="normal" fill="#000" >52.0</text>
<text x="312.4" y="658.3" font-size="33" text-anchor="middle" font-weight="normal" fill="#000" >52.5</text>
<text transform="translate(27.5,319) rotate(-90)" font-size="33" text-anchor="middle" fill="#000">Elevation angle (°)</text>
<text x="550" y="76.7" font-size="33" text-anchor="end" font-weight="normal" fill="#000" >14.5</text>
<text x="550" y="197.1" font-size="33" text-anchor="end" font-weight="normal" fill="#000" >14.2</text>
<text x="550" y="317.5" font-size="33" text-anchor="end" font-weight="normal" fill="#000" >13.9</text>
<text x="550" y="437.9" font-size="33" text-anchor="end" font-weight="normal" fill="#000" >13.5</text>
<text x="550" y="558.3" font-size="33" text-anchor="end" font-weight="normal" fill="#000" >13.2</text>
<text x="613.2" y="658.4" font-size="33" text-anchor="middle" font-weight="normal" fill="#000" >0</text>
<text x="725.7" y="658.4" font-size="33" text-anchor="middle" font-weight="normal" fill="#000" >10</text>
<text x="838.2" y="658.4" font-size="33" text-anchor="middle" font-weight="normal" fill="#000" >20</text>
<text x="950.7" y="658.4" font-size="33" text-anchor="middle" font-weight="normal" fill="#000" >30</text>
<text x="1063.2" y="658.4" font-size="33" text-anchor="middle" font-weight="normal" fill="#000" >40</text>
<text x="1175.7" y="658.4" font-size="33" text-anchor="middle" font-weight="normal" fill="#000" >50</text>
<text transform="translate(461.5,319.6) rotate(-90)" font-size="33" text-anchor="middle" fill="#000">Altitude (km)</text>
<text x="1231.5" y="42.3" font-size="33" text-anchor="start" font-weight="normal" fill="#000" >10</text>
<text x="1231.5" y="185.1" font-size="33" text-anchor="start" font-weight="normal" fill="#000" >5</text>
<text x="1231.5" y="327.3" font-size="33" text-anchor="start" font-weight="normal" fill="#000" >0</text>
<text x="1231.5" y="470.1" font-size="33" text-anchor="start" font-weight="normal" fill="#000" >−5</text>
<text x="1231.5" y="612.6" font-size="33" text-anchor="start" font-weight="normal" fill="#000" >−10</text>
<text transform="translate(1337.5,320) rotate(-90)" font-size="33" text-anchor="middle" fill="#000">Δ E (V/m)</text>
<text x="121" y="734.8" font-size="33" text-anchor="end" font-weight="normal" fill="#000" >24.0</text>
<text x="121" y="924.1" font-size="33" text-anchor="end" font-weight="normal" fill="#000" >23.5</text>
<text x="121" y="1113.4" font-size="33" text-anchor="end" font-weight="normal" fill="#000" >23.0</text>
<text x="208.6" y="1188.4" font-size="33" text-anchor="middle" font-weight="normal" fill="#000" >52.0</text>
<text x="380.4" y="1188.4" font-size="33" text-anchor="middle" font-weight="normal" fill="#000" >52.5</text>
<text transform="translate(27.3,913.4) rotate(-90)" font-size="33" text-anchor="middle" fill="#000">Elevation angle (°)</text>
<text x="261" y="1239.3" font-size="33" text-anchor="middle" font-weight="normal" fill="#000" >Azimuth angle (°)</text>
<text x="550" y="734.8" font-size="33" text-anchor="end" font-weight="normal" fill="#000" >14.2</text>
<text x="550" y="924.1" font-size="33" text-anchor="end" font-weight="normal" fill="#000" >13.9</text>
<text x="550" y="1113.4" font-size="33" text-anchor="end" font-weight="normal" fill="#000" >13.5</text>
<text transform="translate(461.5,931.8) rotate(-90)" font-size="33" text-anchor="middle" fill="#000">Altitude (km)</text>
<text x="1231.5" y="707.4000000000001" font-size="33" text-anchor="start" font-weight="normal" fill="#000" >10</text>
<text x="1231.5" y="816.2" font-size="33" text-anchor="start" font-weight="normal" fill="#000" >5</text>
<text x="1231.5" y="925.0" font-size="33" text-anchor="start" font-weight="normal" fill="#000" >0</text>
<text x="1231.5" y="1033.2" font-size="33" text-anchor="start" font-weight="normal" fill="#000" >−5</text>
<text x="1231.5" y="1141.4" font-size="33" text-anchor="start" font-weight="normal" fill="#000" >−10</text>
<text transform="translate(1337.5,913.5) rotate(-90)" font-size="33" text-anchor="middle" fill="#000">Δ E (V/m)</text>
<g font-size="28.5" fill="#3a2a9a"><text x="858.2" y="985.2">3.9</text><path d="M908.2 971.2L921.6 984.6M921.6 971.2L908.2 984.6" stroke="#3a2a9a" stroke-width="2"/><text x="932.5" y="985.2">10</text><text x="963.5" y="972" font-size="20">7</text><text x="983.4" y="985.2">m</text><text x="1015" y="985.2">s</text><text x="1030" y="973" font-size="20">−1</text></g>
<text x="552" y="1241.1" font-size="33" text-anchor="end" font-weight="normal" fill="#000" >20</text>
<text x="552" y="1294.8" font-size="33" text-anchor="end" font-weight="normal" fill="#000" >10</text>
<text x="552" y="1348.5" font-size="33" text-anchor="end" font-weight="normal" fill="#000" >0</text>
<text x="566" y="1410" font-size="33" text-anchor="middle" font-weight="normal" fill="#000" >−5</text>
<text x="728.5" y="1410" font-size="33" text-anchor="middle" font-weight="normal" fill="#000" >0</text>
<text x="891" y="1410" font-size="33" text-anchor="middle" font-weight="normal" fill="#000" >5</text>
<text x="1053.5" y="1410" font-size="33" text-anchor="middle" font-weight="normal" fill="#000" >10</text>
<text x="1216" y="1410" font-size="33" text-anchor="middle" font-weight="normal" fill="#000" >15</text>
<text x="888.5" y="1461" font-size="33.5" text-anchor="middle">Time (<tspan font-family="Liberation Serif, serif" font-size="34">µ</tspan>s)</text>
<g font-size="29" fill="#e0301e"><text x="876.5" y="1335.3" font-family="Liberation Serif, serif" font-size="30">τ</text><text x="896" y="1335.3">=</text><text x="922" y="1335.3">0.23</text><text x="987.5" y="1335.3" font-family="Liberation Serif, serif" font-size="30">µ</text><text x="1003.5" y="1335.3">s</text></g>
<text transform="translate(494.4,1373) rotate(-90)" font-size="33">Log<tspan font-size="22" font-style="italic" dy="8">e</tspan><tspan dy="-8"> (VHF</tspan><tspan font-size="22" dy="-12">2</tspan><tspan dy="12">)</tspan></text>
<defs><linearGradient id="vir" x1="0" x2="1" y1="0" y2="0"><stop offset="0.0" stop-color="#4a0674"/><stop offset="0.1" stop-color="#521e88"/><stop offset="0.2" stop-color="#4e3c90"/><stop offset="0.3" stop-color="#3e548f"/><stop offset="0.4" stop-color="#346a8f"/><stop offset="0.5" stop-color="#2d888e"/><stop offset="0.58" stop-color="#34ac92"/><stop offset="0.64" stop-color="#5acc9c"/><stop offset="0.72" stop-color="#66cc5c"/><stop offset="0.82" stop-color="#98d432"/><stop offset="0.91" stop-color="#d6dd20"/><stop offset="1.0" stop-color="#f6e23c"/></linearGradient></defs>
<rect x="150.6" y="1280" width="210.4" height="28" fill="url(#vir)" stroke="#111" stroke-width="2"/>
<line x1="151.2" y1="1303" x2="151.2" y2="1313" stroke="#333" stroke-width="1.6"/>
<line x1="221.07" y1="1303" x2="221.07" y2="1313" stroke="#333" stroke-width="1.6"/>
<line x1="290.94" y1="1303" x2="290.94" y2="1313" stroke="#333" stroke-width="1.6"/>
<line x1="360.81" y1="1303" x2="360.81" y2="1313" stroke="#333" stroke-width="1.6"/>
<text x="151.2" y="1352.8" font-size="27" text-anchor="middle" font-weight="normal" fill="#000" >5</text>
<text x="221.07" y="1352.8" font-size="27" text-anchor="middle" font-weight="normal" fill="#000" >6</text>
<text x="290.94" y="1352.8" font-size="27" text-anchor="middle" font-weight="normal" fill="#000" >7</text>
<text x="360.81" y="1348.5" font-size="27" text-anchor="middle" font-weight="normal" fill="#000" >8</text>
<text x="175" y="1403.4" font-size="27">Log<tspan font-size="20" dy="8.5">10</tspan><tspan dy="-8.5" dx="2" letter-spacing="1.2"> (VHF</tspan><tspan font-size="20" dy="-12">2</tspan><tspan dy="12" dx="1">)</tspan></text>
<text x="202" y="565" font-size="25" text-anchor="middle">280 m</text>
<path d="M149 559.3H164M149 559.3l6 -4M149 559.3l6 4" stroke="#111" stroke-width="1.6" fill="none"/>
<path d="M241 559.3H256.5M256.5 559.3l-6 -4M256.5 559.3l-6 4" stroke="#111" stroke-width="1.6" fill="none"/>
<path d="M201.2 501.5V532.6M201.2 501.5l-4 7M201.2 501.5l4 7" stroke="#111" stroke-width="1.6" fill="none"/>
<path d="M201.2 587V618M201.2 618l-4 -7M201.2 618l4 -7" stroke="#111" stroke-width="1.6" fill="none"/>
</svg></body></html>
